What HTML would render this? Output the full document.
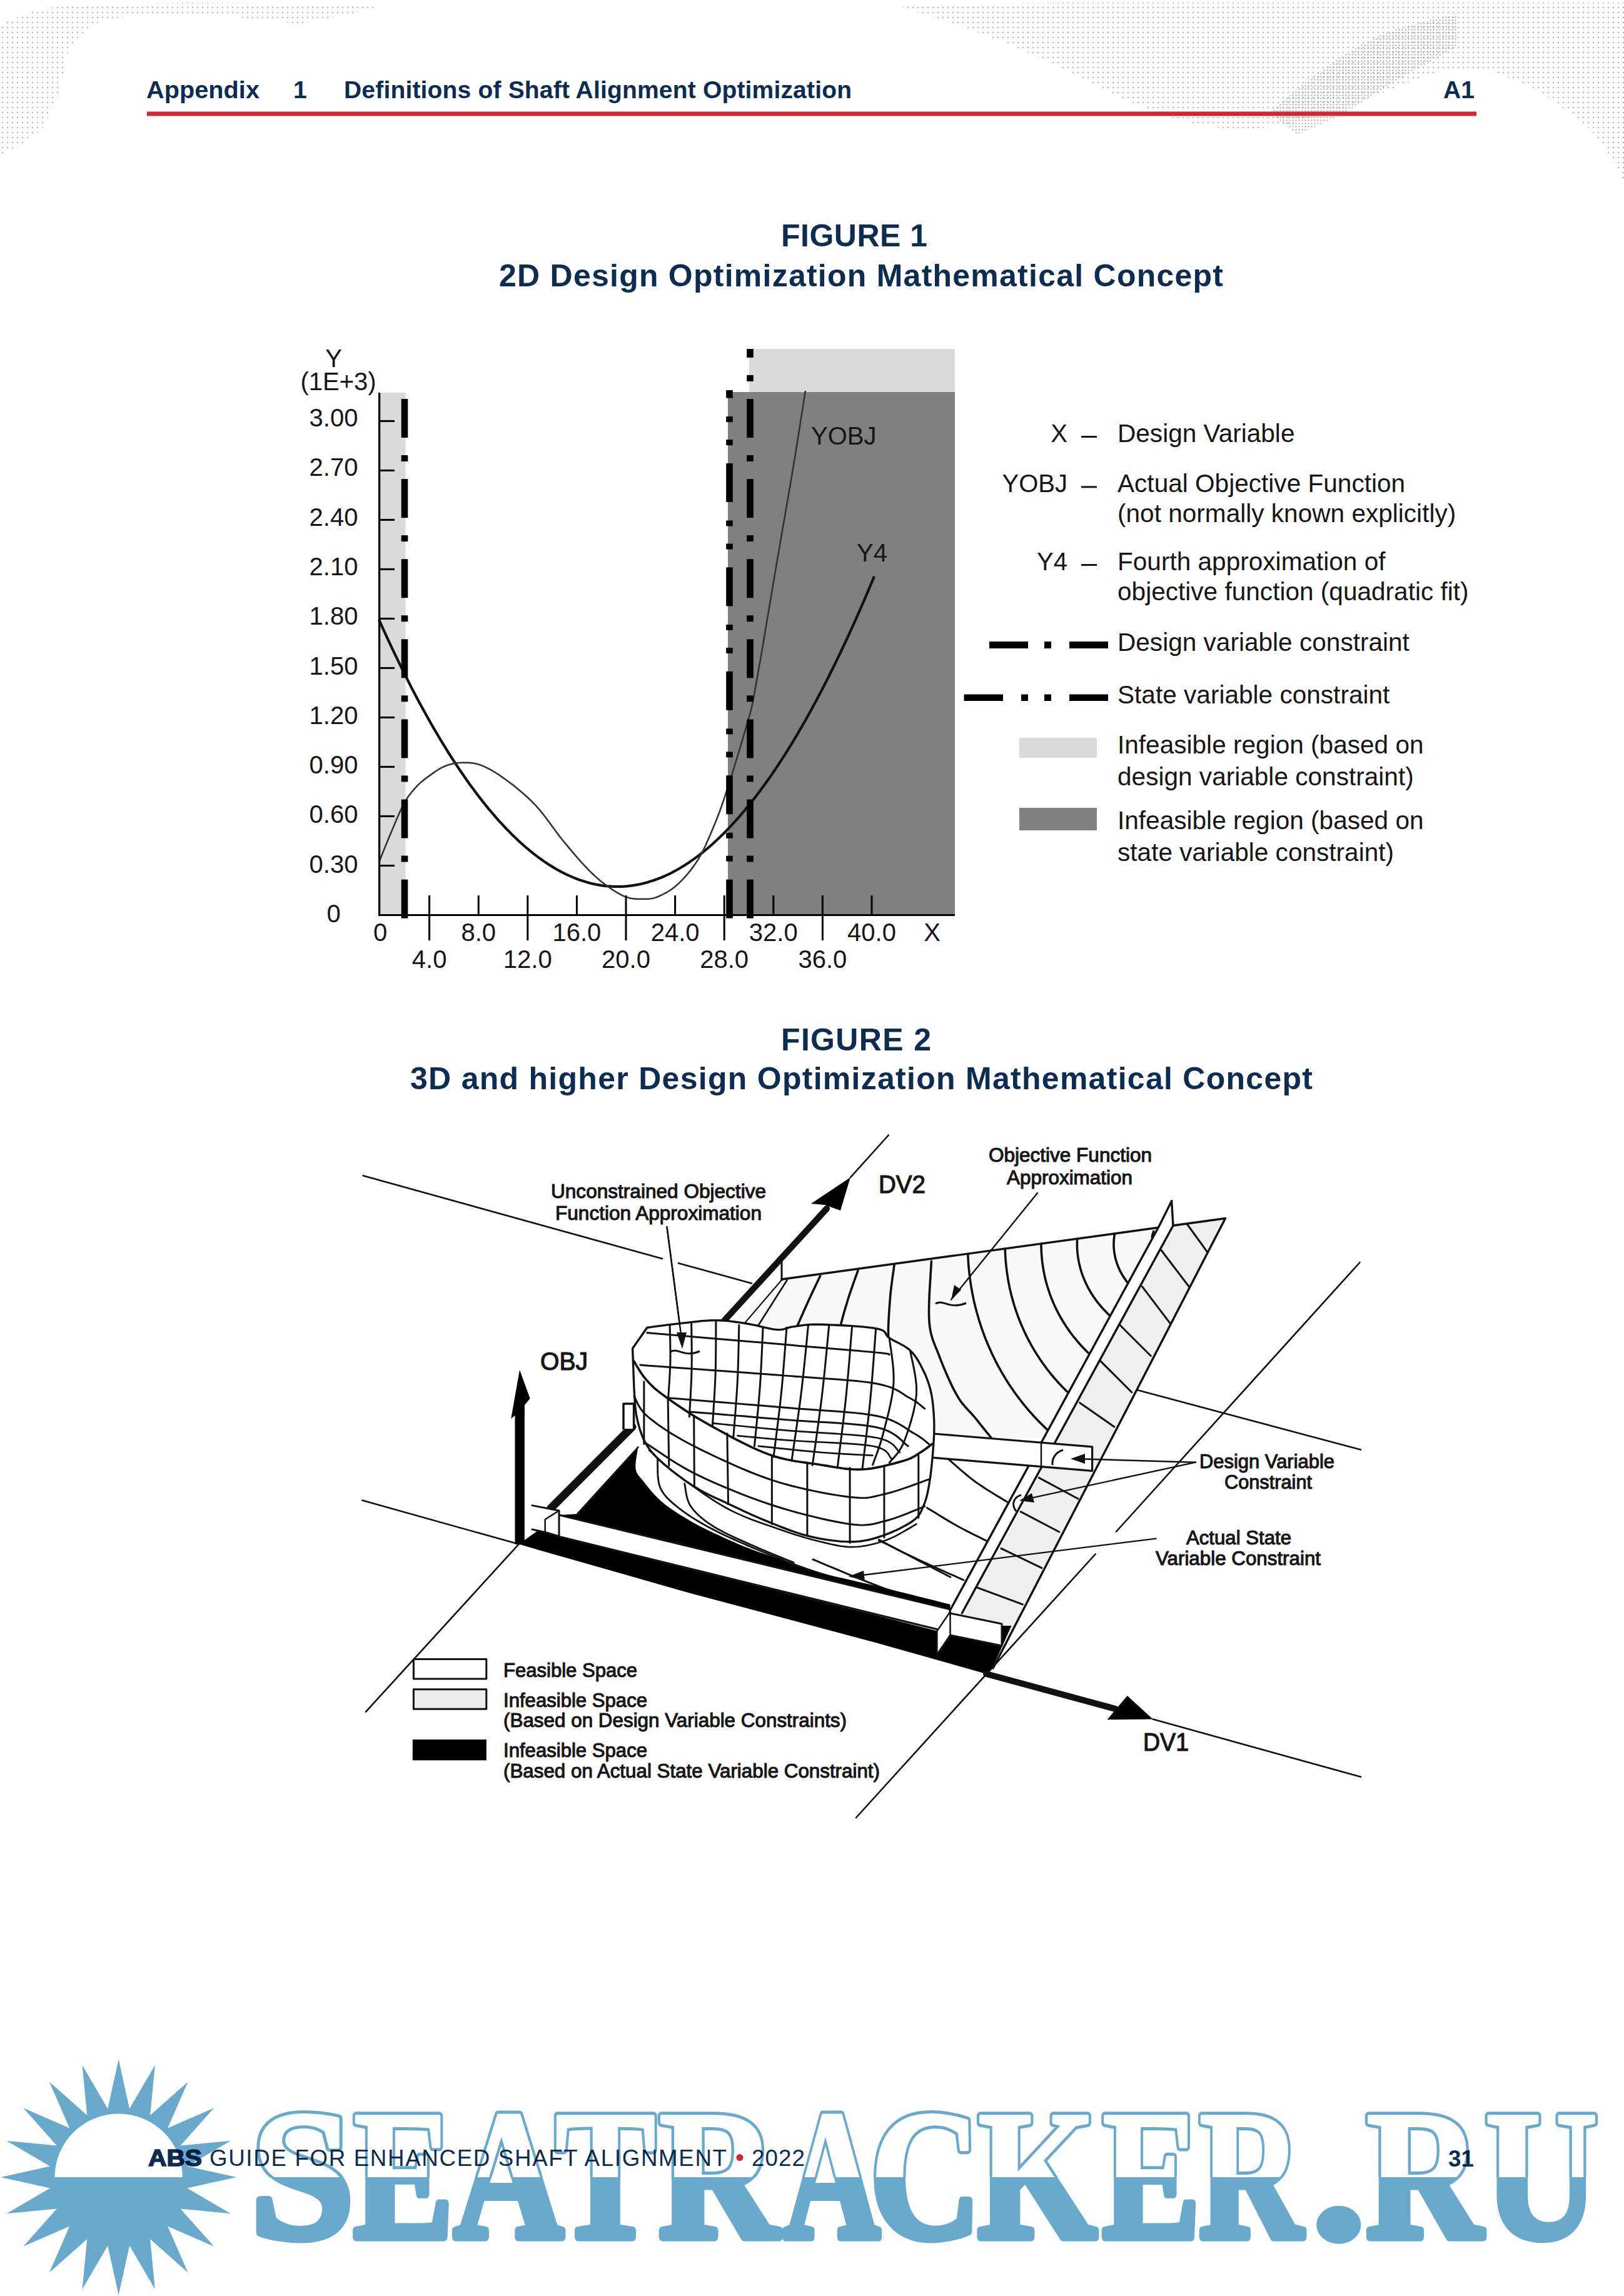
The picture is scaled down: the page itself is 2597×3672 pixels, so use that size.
<!DOCTYPE html>
<html><head><meta charset="utf-8">
<style>
html,body{margin:0;padding:0;background:#fff;}
body{width:2597px;height:3672px;position:relative;overflow:hidden;}
svg{position:absolute;left:0;top:0;}
svg{font-family:"Liberation Sans",sans-serif;}
</style></head>
<body>
<svg width="2597" height="3672" viewBox="0 0 2597 3672">
<defs>
<pattern id="dots" width="8" height="8" patternUnits="userSpaceOnUse"><circle cx="4" cy="4" r="1.25" fill="#9a9a9a"/></pattern>
<pattern id="dots2" width="5" height="5" patternUnits="userSpaceOnUse"><circle cx="2.5" cy="2.5" r="1.2" fill="#8a8a8a"/></pattern>
<clipPath id="cl1"><path d="M0.0,40.0 L60.0,14.0 L155.0,6.0 L300.0,4.0 L450.0,5.0 L600.0,5.0 L600.0,14.0 L480.0,38.0 L369.0,26.0 L221.0,22.0 L155.0,37.0 L111.0,74.0 L92.0,155.0 L66.5,207.0 L22.0,240.0 L0.0,246.0 Z"/></clipPath>
<clipPath id="cl2"><path d="M1430.0,7.0 L1700.0,4.0 L2200.0,4.0 L2597.0,4.0 L2597.0,290.0 L2591.7,280.8 L2584.9,268.0 L2576.7,252.8 L2566.8,236.6 L2555.5,220.7 L2542.5,206.4 L2527.3,192.9 L2509.8,179.2 L2490.8,165.7 L2470.9,153.1 L2451.1,141.9 L2432.0,132.7 L2414.4,125.0 L2397.7,118.2 L2381.1,112.9 L2363.4,109.5 L2343.7,108.6 L2321.0,110.6 L2294.1,117.0 L2263.7,127.5 L2231.3,140.6 L2198.3,154.3 L2166.4,167.1 L2137.0,177.0 L2110.3,184.7 L2085.2,191.7 L2061.1,197.7 L2037.5,202.3 L2013.8,205.3 L1989.7,206.4 L1966.0,205.8 L1943.2,203.7 L1920.5,200.0 L1896.7,194.5 L1870.9,186.9 L1842.0,177.0 L1809.1,163.6 L1772.7,146.7 L1734.2,127.7 L1695.2,108.2 L1656.9,89.7 L1621.0,73.7 L1585.2,59.7 L1548.0,46.3 L1511.7,33.9 L1478.4,22.9 L1450.4,13.8 L1430.0,7.0 Z"/></clipPath>
<clipPath id="cl3"><path d="M2030.0,180.0 L2038.5,172.9 L2050.0,163.0 L2063.7,151.2 L2078.8,138.7 L2094.5,126.3 L2110.0,115.0 L2125.4,104.4 L2141.4,93.6 L2158.1,83.0 L2175.2,72.8 L2192.9,63.4 L2211.0,55.0 L2231.2,47.6 L2253.7,40.8 L2276.8,34.8 L2298.5,29.6 L2316.8,25.3 L2330.0,22.0 L2330.0,75.0 L2320.2,80.4 L2306.7,87.8 L2290.6,96.6 L2273.3,106.1 L2256.0,115.8 L2240.0,125.0 L2224.8,134.1 L2209.4,143.7 L2194.1,153.4 L2178.9,163.0 L2164.1,171.9 L2150.0,180.0 L2135.8,187.4 L2121.1,194.4 L2106.9,200.9 L2093.9,206.7 L2083.0,211.4 L2075.0,215.0 Z"/></clipPath>
</defs>
<rect x="0" y="0" width="620" height="260" fill="url(#dots)" clip-path="url(#cl1)" opacity="0.7"/>
<rect x="1400" y="0" width="1197" height="300" fill="url(#dots)" clip-path="url(#cl2)" opacity="0.75"/>
<rect x="2000" y="0" width="400" height="220" fill="url(#dots2)" clip-path="url(#cl3)" opacity="0.65"/><g fill="#0c2c52" font-weight="bold" font-size="39">
<text x="234" y="157" textLength="181" lengthAdjust="spacingAndGlyphs">Appendix</text>
<text x="469" y="157">1</text>
<text x="550" y="157" textLength="812" lengthAdjust="spacing">Definitions of Shaft Alignment Optimization</text>
<text x="2308" y="157">A1</text>
</g>
<rect x="235" y="178.5" width="2126" height="7" fill="#d22630"/>
<g fill="#0c2c52" font-weight="bold" font-size="50">
<text x="1249" y="394.4" textLength="234" lengthAdjust="spacing">FIGURE 1</text>
<text x="798" y="457.5" textLength="1158" lengthAdjust="spacing">2D Design Optimization Mathematical Concept</text>
<text x="1249" y="1680" textLength="240" lengthAdjust="spacing">FIGURE 2</text>
<text x="656" y="1742.3" textLength="1443" lengthAdjust="spacing">3D and higher Design Optimization Mathematical Concept</text>
</g>
<g id="chart1">
<rect x="607" y="628" width="41.5" height="835" fill="#dadada"/>
<rect x="1198" y="558" width="329" height="69.5" fill="#dadada"/>
<rect x="1164" y="627" width="363" height="836" fill="#808080"/>
<path d="M606.0,991.0 L610.0,999.9 L614.0,1008.8 L618.0,1017.5 L622.0,1026.1 L626.0,1034.7 L630.0,1043.1 L634.0,1051.4 L638.0,1059.7 L642.0,1067.9 L646.0,1075.9 L650.0,1083.9 L654.0,1091.8 L658.0,1099.6 L662.0,1107.3 L666.0,1114.9 L670.0,1122.4 L674.0,1129.8 L678.0,1137.1 L682.0,1144.3 L686.0,1151.4 L690.0,1158.5 L694.0,1165.4 L698.0,1172.2 L702.0,1179.0 L706.0,1185.7 L710.0,1192.2 L714.0,1198.7 L718.0,1205.1 L722.0,1211.3 L726.0,1217.5 L730.0,1223.6 L734.0,1229.6 L738.0,1235.5 L742.0,1241.3 L746.0,1247.0 L750.0,1252.7 L754.0,1258.2 L758.0,1263.6 L762.0,1269.0 L766.0,1274.2 L770.0,1279.4 L774.0,1284.4 L778.0,1289.4 L782.0,1294.3 L786.0,1299.0 L790.0,1303.7 L794.0,1308.3 L798.0,1312.8 L802.0,1317.2 L806.0,1321.5 L810.0,1325.7 L814.0,1329.8 L818.0,1333.9 L822.0,1337.8 L826.0,1341.6 L830.0,1345.4 L834.0,1349.0 L838.0,1352.6 L842.0,1356.0 L846.0,1359.4 L850.0,1362.7 L854.0,1365.8 L858.0,1368.9 L862.0,1371.9 L866.0,1374.8 L870.0,1377.6 L874.0,1380.3 L878.0,1382.9 L882.0,1385.4 L886.0,1387.9 L890.0,1390.2 L894.0,1392.4 L898.0,1394.6 L902.0,1396.6 L906.0,1398.6 L910.0,1400.4 L914.0,1402.2 L918.0,1403.9 L922.0,1405.5 L926.0,1407.0 L930.0,1408.3 L934.0,1409.6 L938.0,1410.8 L942.0,1411.9 L946.0,1413.0 L950.0,1413.9 L954.0,1414.7 L958.0,1415.4 L962.0,1416.1 L966.0,1416.6 L970.0,1417.1 L974.0,1417.4 L978.0,1417.7 L982.0,1417.9 L986.0,1417.9 L990.0,1417.9 L994.0,1417.8 L998.0,1417.6 L1002.0,1417.3 L1006.0,1416.9 L1010.0,1416.4 L1014.0,1415.8 L1018.0,1415.1 L1022.0,1414.4 L1026.0,1413.5 L1030.0,1412.5 L1034.0,1411.5 L1038.0,1410.3 L1042.0,1409.1 L1046.0,1407.8 L1050.0,1406.3 L1054.0,1404.8 L1058.0,1403.2 L1062.0,1401.5 L1066.0,1399.7 L1070.0,1397.8 L1074.0,1395.8 L1078.0,1393.7 L1082.0,1391.5 L1086.0,1389.2 L1090.0,1386.8 L1094.0,1384.4 L1098.0,1381.8 L1102.0,1379.2 L1106.0,1376.4 L1110.0,1373.6 L1114.0,1370.6 L1118.0,1367.6 L1122.0,1364.5 L1126.0,1361.3 L1130.0,1358.0 L1134.0,1354.6 L1138.0,1351.1 L1142.0,1347.5 L1146.0,1343.8 L1150.0,1340.0 L1154.0,1336.1 L1158.0,1332.2 L1162.0,1328.1 L1166.0,1323.9 L1170.0,1319.7 L1174.0,1315.3 L1178.0,1310.9 L1182.0,1306.4 L1186.0,1301.7 L1190.0,1297.0 L1194.0,1292.2 L1198.0,1287.3 L1202.0,1282.3 L1206.0,1277.2 L1210.0,1272.0 L1214.0,1266.7 L1218.0,1261.3 L1222.0,1255.8 L1226.0,1250.3 L1230.0,1244.6 L1234.0,1238.9 L1238.0,1233.0 L1242.0,1227.1 L1246.0,1221.0 L1250.0,1214.9 L1254.0,1208.7 L1258.0,1202.3 L1262.0,1195.9 L1266.0,1189.4 L1270.0,1182.8 L1274.0,1176.1 L1278.0,1169.3 L1282.0,1162.4 L1286.0,1155.5 L1290.0,1148.4 L1294.0,1141.2 L1298.0,1134.0 L1302.0,1126.6 L1306.0,1119.2 L1310.0,1111.6 L1314.0,1104.0 L1318.0,1096.3 L1322.0,1088.4 L1326.0,1080.5 L1330.0,1072.5 L1334.0,1064.4 L1338.0,1056.2 L1342.0,1047.9 L1346.0,1039.5 L1350.0,1031.0 L1354.0,1022.4 L1358.0,1013.8 L1362.0,1005.0 L1366.0,996.1 L1370.0,987.2 L1374.0,978.1 L1378.0,969.0 L1382.0,959.8 L1386.0,950.4 L1390.0,941.0 L1394.0,931.5 L1398.0,921.9" fill="none" stroke="#111" stroke-width="4.2" stroke-linejoin="round"/>
<path d="M606.0,1379.0 L607.5,1375.2 L609.6,1370.1 L612.0,1364.1 L614.7,1357.3 L617.6,1350.3 L620.5,1343.2 L623.3,1336.3 L626.0,1330.0 L628.5,1324.0 L631.1,1317.9 L633.7,1311.8 L636.2,1305.8 L638.8,1300.0 L641.3,1294.5 L643.9,1289.3 L646.4,1284.5 L648.9,1280.2 L651.3,1276.3 L653.7,1272.8 L656.2,1269.5 L658.6,1266.5 L661.0,1263.6 L663.5,1260.8 L666.0,1258.0 L668.5,1255.4 L671.1,1252.9 L673.7,1250.6 L676.3,1248.4 L678.9,1246.4 L681.6,1244.4 L684.3,1242.4 L687.0,1240.4 L689.8,1238.4 L692.6,1236.4 L695.4,1234.4 L698.3,1232.5 L701.2,1230.6 L704.1,1228.9 L707.0,1227.4 L710.0,1226.0 L712.9,1224.8 L715.8,1223.7 L718.7,1222.7 L721.6,1221.9 L724.6,1221.2 L727.7,1220.6 L731.0,1220.2 L734.5,1220.0 L738.2,1219.8 L742.1,1219.7 L746.2,1219.7 L750.4,1219.9 L754.7,1220.3 L759.1,1221.0 L763.7,1222.0 L768.3,1223.5 L773.0,1225.4 L777.8,1227.6 L782.8,1230.1 L787.8,1232.9 L792.9,1236.0 L798.2,1239.4 L803.5,1243.1 L809.0,1247.0 L814.6,1251.2 L820.5,1255.6 L826.5,1260.4 L832.5,1265.4 L838.6,1270.7 L844.7,1276.2 L850.6,1281.9 L856.4,1287.9 L862.1,1294.3 L867.7,1301.1 L873.2,1308.3 L878.7,1315.6 L884.1,1323.0 L889.4,1330.3 L894.7,1337.4 L900.0,1344.0 L905.2,1350.4 L910.5,1356.7 L915.7,1362.8 L920.8,1368.8 L925.8,1374.6 L930.7,1380.1 L935.5,1385.2 L940.0,1390.0 L944.3,1394.3 L948.4,1398.3 L952.3,1401.9 L956.1,1405.3 L959.8,1408.4 L963.5,1411.4 L967.2,1414.2 L971.0,1417.0 L974.8,1419.7 L978.7,1422.4 L982.5,1424.9 L986.3,1427.2 L990.1,1429.4 L993.8,1431.4 L997.4,1433.1 L1001.0,1434.5 L1004.5,1435.6 L1007.8,1436.5 L1011.1,1437.0 L1014.4,1437.4 L1017.6,1437.6 L1020.7,1437.7 L1023.9,1437.7 L1027.0,1437.7 L1030.0,1437.7 L1033.0,1437.7 L1035.8,1437.7 L1038.6,1437.5 L1041.5,1437.2 L1044.5,1436.6 L1047.6,1435.7 L1051.0,1434.5 L1054.6,1433.0 L1058.4,1431.2 L1062.4,1429.2 L1066.5,1427.0 L1070.6,1424.5 L1074.8,1421.6 L1078.9,1418.5 L1083.0,1415.0 L1087.1,1411.1 L1091.3,1406.9 L1095.5,1402.3 L1099.7,1397.5 L1103.9,1392.4 L1107.9,1387.1 L1111.8,1381.6 L1115.5,1376.0 L1119.0,1370.2 L1122.3,1364.2 L1125.4,1358.0 L1128.5,1351.7 L1131.4,1345.1 L1134.3,1338.5 L1137.2,1331.8 L1140.0,1325.0 L1142.7,1318.5 L1145.2,1312.3 L1147.6,1306.3 L1150.0,1300.0 L1152.5,1293.3 L1155.1,1285.8 L1158.0,1277.3 L1161.2,1267.5 L1165.0,1255.8 L1169.3,1242.2 L1173.9,1227.4 L1178.6,1211.9 L1183.3,1196.5 L1187.7,1181.7 L1191.7,1168.1 L1195.0,1156.5 L1197.5,1147.8 L1199.2,1141.9 L1200.5,1137.6 L1201.5,1133.8 L1202.5,1129.2 L1203.8,1122.9 L1205.5,1113.5 L1208.0,1100.0 L1211.3,1081.6 L1215.2,1059.1 L1219.6,1033.7 L1224.2,1006.4 L1228.9,978.4 L1233.6,950.7 L1238.0,924.6 L1242.0,901.0 L1245.7,879.7 L1249.2,859.3 L1252.6,839.7 L1255.9,820.9 L1259.0,802.6 L1262.1,784.8 L1265.1,767.3 L1268.0,750.0 L1270.9,732.3 L1273.9,714.0 L1276.8,695.7 L1279.6,678.1 L1282.2,661.6 L1284.5,646.9 L1286.5,634.5 L1288.0,625.0" fill="none" stroke="#333" stroke-width="2.6" stroke-linejoin="round"/>
<rect x="605" y="628" width="3.2" height="837" fill="#000"/>
<rect x="605" y="1462" width="922" height="3" fill="#000"/>
<rect x="606" y="1382.9" width="25" height="3" fill="#000"/>
<rect x="606" y="1303.9" width="25" height="3" fill="#000"/>
<rect x="606" y="1224.9" width="25" height="3" fill="#000"/>
<rect x="606" y="1145.9" width="25" height="3" fill="#000"/>
<rect x="606" y="1066.9" width="25" height="3" fill="#000"/>
<rect x="606" y="987.9" width="25" height="3" fill="#000"/>
<rect x="606" y="908.9" width="25" height="3" fill="#000"/>
<rect x="606" y="829.9" width="25" height="3" fill="#000"/>
<rect x="606" y="750.9" width="25" height="3" fill="#000"/>
<rect x="606" y="671.9" width="25" height="3" fill="#000"/>
<rect x="685.1" y="1432" width="3" height="72" fill="#000"/>
<rect x="763.7" y="1432" width="3" height="31" fill="#000"/>
<rect x="842.3" y="1432" width="3" height="72" fill="#000"/>
<rect x="920.9" y="1432" width="3" height="31" fill="#000"/>
<rect x="999.5" y="1432" width="3" height="72" fill="#000"/>
<rect x="1078.1" y="1432" width="3" height="31" fill="#000"/>
<rect x="1156.7" y="1432" width="3" height="72" fill="#000"/>
<rect x="1235.3" y="1432" width="3" height="31" fill="#000"/>
<rect x="1313.9" y="1432" width="3" height="72" fill="#000"/>
<rect x="1392.5" y="1432" width="3" height="31" fill="#000"/>
<g fill="#000">
<rect x="641.7" y="638.0" width="10.6" height="62.0"/>
<rect x="641.7" y="728.0" width="10.6" height="10"/>
<rect x="641.7" y="766.1" width="10.6" height="62.0"/>
<rect x="641.7" y="856.1" width="10.6" height="10"/>
<rect x="641.7" y="894.2" width="10.6" height="62.0"/>
<rect x="641.7" y="984.2" width="10.6" height="10"/>
<rect x="641.7" y="1022.3" width="10.6" height="62.0"/>
<rect x="641.7" y="1112.3" width="10.6" height="10"/>
<rect x="641.7" y="1150.4" width="10.6" height="62.0"/>
<rect x="641.7" y="1240.4" width="10.6" height="10"/>
<rect x="641.7" y="1278.5" width="10.6" height="62.0"/>
<rect x="641.7" y="1368.5" width="10.6" height="10"/>
<rect x="641.7" y="1406.6" width="10.6" height="62.0"/>
<rect x="1194.2" y="558.0" width="10.6" height="13.9"/>
<rect x="1194.2" y="599.9" width="10.6" height="10"/>
<rect x="1194.2" y="638.0" width="10.6" height="62.0"/>
<rect x="1194.2" y="728.0" width="10.6" height="10"/>
<rect x="1194.2" y="766.1" width="10.6" height="62.0"/>
<rect x="1194.2" y="856.1" width="10.6" height="10"/>
<rect x="1194.2" y="894.2" width="10.6" height="62.0"/>
<rect x="1194.2" y="984.2" width="10.6" height="10"/>
<rect x="1194.2" y="1022.3" width="10.6" height="62.0"/>
<rect x="1194.2" y="1112.3" width="10.6" height="10"/>
<rect x="1194.2" y="1150.4" width="10.6" height="62.0"/>
<rect x="1194.2" y="1240.4" width="10.6" height="10"/>
<rect x="1194.2" y="1278.5" width="10.6" height="62.0"/>
<rect x="1194.2" y="1368.5" width="10.6" height="10"/>
<rect x="1194.2" y="1406.6" width="10.6" height="62.0"/>
<rect x="1161.2" y="624.0" width="10.6" height="12.6"/>
<rect x="1161.2" y="666.1" width="10.6" height="9"/>
<rect x="1161.2" y="703.1" width="10.6" height="9"/>
<rect x="1161.2" y="741.0" width="10.6" height="62.0"/>
<rect x="1161.2" y="832.5" width="10.6" height="9"/>
<rect x="1161.2" y="869.5" width="10.6" height="9"/>
<rect x="1161.2" y="907.4" width="10.6" height="62.0"/>
<rect x="1161.2" y="998.9" width="10.6" height="9"/>
<rect x="1161.2" y="1035.9" width="10.6" height="9"/>
<rect x="1161.2" y="1073.8" width="10.6" height="62.0"/>
<rect x="1161.2" y="1165.3" width="10.6" height="9"/>
<rect x="1161.2" y="1202.3" width="10.6" height="9"/>
<rect x="1161.2" y="1240.2" width="10.6" height="62.0"/>
<rect x="1161.2" y="1331.7" width="10.6" height="9"/>
<rect x="1161.2" y="1368.7" width="10.6" height="9"/>
<rect x="1161.2" y="1406.6" width="10.6" height="62.0"/>
</g>
<g font-size="40" fill="#161616">
<text x="533.5" y="682.0" text-anchor="middle">3.00</text>
<text x="533.5" y="761.3" text-anchor="middle">2.70</text>
<text x="533.5" y="840.6" text-anchor="middle">2.40</text>
<text x="533.5" y="919.9" text-anchor="middle">2.10</text>
<text x="533.5" y="999.2" text-anchor="middle">1.80</text>
<text x="533.5" y="1078.5" text-anchor="middle">1.50</text>
<text x="533.5" y="1157.8" text-anchor="middle">1.20</text>
<text x="533.5" y="1237.1" text-anchor="middle">0.90</text>
<text x="533.5" y="1316.4" text-anchor="middle">0.60</text>
<text x="533.5" y="1395.7" text-anchor="middle">0.30</text>
<text x="533.5" y="1475.0" text-anchor="middle">0</text>
<text x="533.5" y="586.5" text-anchor="middle">Y</text>
<text x="541" y="623.5" text-anchor="middle">(1E+3)</text>
<text x="608.0" y="1504.5" text-anchor="middle">0</text>
<text x="686.6" y="1548" text-anchor="middle">4.0</text>
<text x="765.2" y="1504.5" text-anchor="middle">8.0</text>
<text x="843.8" y="1548" text-anchor="middle">12.0</text>
<text x="922.4" y="1504.5" text-anchor="middle">16.0</text>
<text x="1001.0" y="1548" text-anchor="middle">20.0</text>
<text x="1079.6" y="1504.5" text-anchor="middle">24.0</text>
<text x="1158.2" y="1548" text-anchor="middle">28.0</text>
<text x="1236.8" y="1504.5" text-anchor="middle">32.0</text>
<text x="1315.4" y="1548" text-anchor="middle">36.0</text>
<text x="1394.0" y="1504.5" text-anchor="middle">40.0</text>
<text x="1490.6" y="1504.5" text-anchor="middle">X</text>
<text x="1297" y="711">YOBJ</text>
<text x="1370" y="897.6">Y4</text>
<text x="1707" y="707" text-anchor="end">X</text>
<text x="1707" y="787.3" text-anchor="end">YOBJ</text>
<text x="1707" y="912" text-anchor="end">Y4</text>
<rect x="1729" y="697.0" width="25" height="3"/>
<rect x="1729" y="777.3" width="25" height="3"/>
<rect x="1729" y="902.0" width="25" height="3"/>
<text x="1787" y="707" font-size="40.6">Design Variable</text>
<text x="1787" y="787.3" font-size="40.6">Actual Objective Function</text>
<text x="1787" y="835.3" font-size="40.6">(not normally known explicitly)</text>
<text x="1787" y="912" font-size="40.6">Fourth approximation of</text>
<text x="1787" y="960" font-size="40.6">objective function (quadratic fit)</text>
<text x="1787" y="1040.6" font-size="40.6">Design variable constraint</text>
<text x="1787" y="1124.7" font-size="40.6">State variable constraint</text>
<text x="1787" y="1205" font-size="40.6">Infeasible region (based on</text>
<text x="1787" y="1255.9" font-size="40.6">design variable constraint)</text>
<text x="1787" y="1325.5" font-size="40.6">Infeasible region (based on</text>
<text x="1787" y="1376.9" font-size="40.6">state variable constraint)</text>
</g>
<g fill="#000">
<rect x="1582" y="1026" width="62" height="11"/><rect x="1670" y="1026" width="11" height="11"/><rect x="1710" y="1026" width="62" height="11"/>
<rect x="1541.5" y="1110.5" width="62.5" height="10.5"/><rect x="1633" y="1110.5" width="11" height="10.5"/><rect x="1670" y="1110.5" width="11" height="10.5"/><rect x="1710" y="1110.5" width="62" height="10.5"/>
</g>
<rect x="1630" y="1180" width="124" height="32" fill="#dadada"/>
<rect x="1630" y="1292" width="124" height="36" fill="#808080"/>
</g><g id="fig2">
<rect x="560" y="1815" width="1620" height="1105" fill="#fefefe"/>
<polygon points="1250,2046 1959.5,1948.5 1700,2300 1490,2300 1400,2130 1150,2130" fill="#f9f9f9"/>
<path d="M580.7,1880.2 L1059.0,2013.0" fill="none" stroke="#111" stroke-width="2.6" stroke-linejoin="round" stroke-linecap="round" />
<path d="M1085.0,2020.2 L1202.0,2052.4" fill="none" stroke="#111" stroke-width="2.6" stroke-linejoin="round" stroke-linecap="round" />
<path d="M579.4,2399.6 L829.6,2469.6" fill="none" stroke="#111" stroke-width="2.6" stroke-linejoin="round" stroke-linecap="round" />
<path d="M829.6,2469.6 L585.0,2737.7" fill="none" stroke="#111" stroke-width="2.6" stroke-linejoin="round" stroke-linecap="round" />
<path d="M2174.5,2019.0 L1785.0,2449.5" fill="none" stroke="#111" stroke-width="2.6" stroke-linejoin="round" stroke-linecap="round" />
<path d="M1751.7,2485.5 L1369.0,2907.0" fill="none" stroke="#111" stroke-width="2.6" stroke-linejoin="round" stroke-linecap="round" />
<path d="M1811.0,2221.0 L2176.0,2318.6" fill="none" stroke="#111" stroke-width="2.6" stroke-linejoin="round" stroke-linecap="round" />
<path d="M1843.7,2749.6 L2176.0,2841.8" fill="none" stroke="#111" stroke-width="2.6" stroke-linejoin="round" stroke-linecap="round" />
<path d="M1359.9,1883.1 L1420.8,1815.5" fill="none" stroke="#111" stroke-width="2.6" stroke-linejoin="round" stroke-linecap="round" />
<polygon points="1874.7,1960 1959.5,1948.5 1588,2668 1540,2580" fill="#efefef"/>
<path d="M1250.0,2046.0 L1959.5,1948.5 L1588.0,2668.0" fill="none" stroke="#111" stroke-width="3.4" stroke-linejoin="round" stroke-linecap="round" />
<path d="M1311.6,2040.8 L1310.5,2043.1 L1309.1,2046.1 L1307.4,2049.6 L1305.5,2053.6 L1303.4,2057.9 L1301.3,2062.3 L1299.1,2066.9 L1297.0,2071.4 L1294.9,2075.9 L1293.0,2080.0 L1291.2,2084.0 L1289.3,2088.2 L1287.4,2092.4 L1285.5,2096.6 L1283.7,2100.9 L1281.8,2105.0 L1280.0,2109.1 L1278.3,2113.1 L1276.6,2116.9 L1275.0,2120.5 L1273.4,2124.0 L1271.9,2127.6 L1270.3,2131.1 L1268.8,2134.5 L1267.4,2137.8 L1266.0,2140.9 L1264.8,2143.7 L1263.7,2146.2 L1262.8,2148.3 L1262.0,2150.0" fill="none" stroke="#111" stroke-width="3.6" stroke-linejoin="round" stroke-linecap="round" />
<path d="M1372.0,2032.0 L1371.1,2034.5 L1369.9,2037.8 L1368.5,2041.7 L1367.0,2046.0 L1365.3,2050.7 L1363.6,2055.6 L1361.8,2060.6 L1360.1,2065.6 L1358.5,2070.4 L1357.0,2075.0 L1355.6,2079.5 L1354.2,2084.2 L1352.7,2089.0 L1351.3,2093.8 L1349.9,2098.6 L1348.6,2103.3 L1347.3,2107.9 L1346.1,2112.4 L1345.0,2116.6 L1344.0,2120.5 L1343.1,2124.2 L1342.3,2127.9 L1341.5,2131.5 L1340.8,2134.9 L1340.2,2138.1 L1339.6,2141.1 L1339.1,2143.8 L1338.7,2146.2 L1338.3,2148.3 L1338.0,2150.0" fill="none" stroke="#111" stroke-width="3.6" stroke-linejoin="round" stroke-linecap="round" />
<path d="M1430.0,2023.5 L1429.6,2026.2 L1429.1,2029.7 L1428.6,2033.8 L1427.9,2038.4 L1427.2,2043.3 L1426.5,2048.6 L1425.8,2054.0 L1425.1,2059.4 L1424.5,2064.8 L1424.0,2070.0 L1423.5,2075.3 L1423.1,2080.9 L1422.6,2086.8 L1422.2,2092.7 L1421.8,2098.7 L1421.4,2104.6 L1421.1,2110.3 L1420.8,2115.6 L1420.6,2120.5 L1420.5,2124.8 L1420.5,2128.6 L1420.5,2132.1 L1420.6,2135.3 L1420.8,2138.2 L1421.0,2140.8 L1421.3,2143.2 L1421.5,2145.2 L1421.7,2147.0 L1421.9,2148.6 L1422.0,2150.0" fill="none" stroke="#111" stroke-width="3.6" stroke-linejoin="round" stroke-linecap="round" />
<path d="M1489.4,2017.0 L1489.1,2023.0 L1488.6,2030.9 L1488.0,2040.3 L1487.4,2050.9 L1486.7,2062.1 L1486.1,2073.6 L1485.7,2085.0 L1485.5,2095.8 L1485.6,2105.6 L1486.0,2114.0 L1486.7,2121.1 L1487.7,2127.4 L1488.9,2133.0 L1490.3,2138.2 L1491.8,2143.1 L1493.6,2147.7 L1495.4,2152.4 L1497.4,2157.2 L1499.5,2162.4 L1501.7,2168.0 L1504.0,2174.1 L1506.6,2180.6 L1509.4,2187.4 L1512.3,2194.3 L1515.3,2201.2 L1518.4,2208.0 L1521.4,2214.6 L1524.5,2220.9 L1527.6,2226.7 L1530.5,2232.0 L1533.4,2236.7 L1536.3,2241.0 L1539.2,2244.8 L1542.2,2248.4 L1545.1,2251.7 L1548.0,2254.9 L1550.9,2257.9 L1553.7,2261.0 L1556.5,2264.1 L1559.3,2267.4 L1562.1,2270.9 L1565.0,2274.5 L1568.0,2278.3 L1571.0,2282.0 L1573.9,2285.6 L1576.7,2289.1 L1579.3,2292.3 L1581.6,2295.1 L1583.5,2297.5 L1585.0,2299.4" fill="none" stroke="#111" stroke-width="3.6" stroke-linejoin="round" stroke-linecap="round" />
<path d="M1547.8,2005.8 L1548.0,2009.8 L1548.2,2013.7 L1548.4,2017.7 L1548.7,2021.6 L1549.0,2025.6 L1549.4,2029.5 L1549.8,2033.5 L1550.2,2037.4 L1550.7,2041.3 L1551.2,2045.3 L1551.7,2049.2 L1552.3,2053.1 L1552.9,2057.0 L1553.6,2060.9 L1554.3,2064.8 L1555.0,2068.7 L1555.8,2072.6 L1556.6,2076.4 L1557.4,2080.3 L1558.3,2084.1 L1559.2,2088.0 L1560.2,2091.8 L1561.2,2095.6 L1562.2,2099.4 L1563.3,2103.2 L1564.4,2107.0 L1565.5,2110.8 L1566.7,2114.6 L1567.9,2118.3 L1569.1,2122.1 L1570.4,2125.8 L1571.7,2129.5 L1573.0,2133.2 L1574.4,2136.9 L1575.8,2140.6 L1577.3,2144.2 L1578.8,2147.8 L1580.3,2151.5 L1581.9,2155.1 L1583.5,2158.7 L1585.1,2162.2 L1586.7,2165.8 L1588.4,2169.3 L1590.2,2172.9 L1591.9,2176.4 L1593.7,2179.9 L1595.5,2183.3 L1597.4,2186.8 L1599.3,2190.2 L1601.2,2193.6 L1603.2,2197.0 L1605.2,2200.3 L1607.2,2203.7 L1609.2,2207.0 L1611.3,2210.3 L1613.4,2213.6 L1615.6,2216.9 L1617.8,2220.1 L1620.0,2223.3 L1622.2,2226.5 L1624.5,2229.7 L1626.8,2232.8 L1629.1,2235.9 L1631.5,2239.0 L1633.9,2242.1 L1636.3,2245.1 L1638.7,2248.1 L1641.2,2251.1 L1643.7,2254.1 L1646.2,2257.0 L1648.8,2259.9 L1651.4,2262.8 L1654.0,2265.7 L1656.6,2268.5 L1659.3,2271.3 L1662.0,2274.1 L1664.7,2276.8 L1667.5,2279.5 L1670.2,2282.2 L1673.0,2284.9 L1675.9,2287.5" fill="none" stroke="#111" stroke-width="3.6" stroke-linejoin="round" stroke-linecap="round" />
<path d="M1607.3,1997.1 L1607.4,2000.4 L1607.5,2003.6 L1607.6,2006.9 L1607.8,2010.1 L1608.0,2013.3 L1608.3,2016.6 L1608.5,2019.8 L1608.9,2023.0 L1609.2,2026.3 L1609.6,2029.5 L1610.0,2032.7 L1610.4,2035.9 L1610.9,2039.1 L1611.4,2042.3 L1611.9,2045.5 L1612.4,2048.7 L1613.0,2051.9 L1613.7,2055.1 L1614.3,2058.3 L1615.0,2061.4 L1615.7,2064.6 L1616.5,2067.8 L1617.2,2070.9 L1618.0,2074.0 L1618.9,2077.2 L1619.8,2080.3 L1620.7,2083.4 L1621.6,2086.5 L1622.5,2089.6 L1623.5,2092.7 L1624.6,2095.8 L1625.6,2098.8 L1626.7,2101.9 L1627.8,2104.9 L1628.9,2107.9 L1630.1,2111.0 L1631.3,2114.0 L1632.5,2117.0 L1633.8,2119.9 L1635.1,2122.9 L1636.4,2125.9 L1637.7,2128.8 L1639.1,2131.7 L1640.5,2134.6 L1641.9,2137.5 L1643.4,2140.4 L1644.9,2143.3 L1646.4,2146.1 L1648.0,2149.0 L1649.5,2151.8 L1651.1,2154.6 L1652.7,2157.4 L1654.4,2160.2 L1656.1,2162.9 L1657.8,2165.7 L1659.5,2168.4 L1661.3,2171.1 L1663.1,2173.8 L1664.9,2176.4 L1666.7,2179.1 L1668.6,2181.7 L1670.5,2184.3 L1672.4,2186.9 L1674.3,2189.5 L1676.3,2192.0 L1678.3,2194.5 L1680.3,2197.1 L1682.3,2199.5 L1684.4,2202.0 L1686.5,2204.5 L1688.6,2206.9 L1690.7,2209.3 L1692.9,2211.7 L1695.1,2214.0 L1697.3,2216.4 L1699.5,2218.7 L1701.8,2221.0 L1704.0,2223.2 L1706.3,2225.5" fill="none" stroke="#111" stroke-width="3.6" stroke-linejoin="round" stroke-linecap="round" />
<path d="M1665.0,1989.0 L1665.0,1991.5 L1665.0,1993.9 L1665.1,1996.4 L1665.2,1998.9 L1665.3,2001.3 L1665.4,2003.8 L1665.6,2006.3 L1665.8,2008.7 L1666.0,2011.2 L1666.2,2013.6 L1666.5,2016.1 L1666.7,2018.5 L1667.1,2021.0 L1667.4,2023.4 L1667.8,2025.9 L1668.2,2028.3 L1668.6,2030.7 L1669.0,2033.2 L1669.5,2035.6 L1670.0,2038.0 L1670.5,2040.4 L1671.0,2042.9 L1671.6,2045.3 L1672.2,2047.7 L1672.8,2050.1 L1673.5,2052.4 L1674.1,2054.8 L1674.8,2057.2 L1675.6,2059.6 L1676.3,2061.9 L1677.1,2064.3 L1677.9,2066.6 L1678.7,2069.0 L1679.5,2071.3 L1680.4,2073.6 L1681.3,2075.9 L1682.2,2078.3 L1683.2,2080.6 L1684.1,2082.8 L1685.1,2085.1 L1686.1,2087.4 L1687.2,2089.7 L1688.2,2091.9 L1689.3,2094.1 L1690.4,2096.4 L1691.6,2098.6 L1692.7,2100.8 L1693.9,2103.0 L1695.1,2105.2 L1696.3,2107.4 L1697.6,2109.5 L1698.9,2111.7 L1700.1,2113.8 L1701.5,2115.9 L1702.8,2118.1 L1704.2,2120.2 L1705.5,2122.2 L1707.0,2124.3 L1708.4,2126.4 L1709.8,2128.4 L1711.3,2130.5 L1712.8,2132.5 L1714.3,2134.5 L1715.8,2136.5 L1717.4,2138.5 L1719.0,2140.4 L1720.6,2142.4 L1722.2,2144.3 L1723.8,2146.2 L1725.5,2148.1 L1727.1,2150.0 L1728.8,2151.9 L1730.6,2153.7 L1732.3,2155.5 L1734.1,2157.4 L1735.8,2159.2 L1737.6,2161.0 L1739.4,2162.7 L1741.3,2164.5" fill="none" stroke="#111" stroke-width="3.6" stroke-linejoin="round" stroke-linecap="round" />
<path d="M1722.7,1981.2 L1722.6,1982.9 L1722.5,1984.6 L1722.4,1986.3 L1722.4,1988.0 L1722.4,1989.7 L1722.4,1991.4 L1722.4,1993.1 L1722.5,1994.8 L1722.5,1996.5 L1722.6,1998.2 L1722.7,1999.9 L1722.9,2001.6 L1723.0,2003.2 L1723.2,2004.9 L1723.4,2006.6 L1723.6,2008.3 L1723.8,2010.0 L1724.1,2011.7 L1724.3,2013.4 L1724.6,2015.1 L1724.9,2016.7 L1725.3,2018.4 L1725.6,2020.1 L1726.0,2021.8 L1726.4,2023.4 L1726.8,2025.1 L1727.2,2026.8 L1727.6,2028.4 L1728.1,2030.1 L1728.6,2031.7 L1729.1,2033.4 L1729.6,2035.0 L1730.2,2036.7 L1730.7,2038.3 L1731.3,2039.9 L1731.9,2041.5 L1732.6,2043.2 L1733.2,2044.8 L1733.9,2046.4 L1734.5,2048.0 L1735.2,2049.6 L1736.0,2051.2 L1736.7,2052.7 L1737.5,2054.3 L1738.2,2055.9 L1739.0,2057.5 L1739.8,2059.0 L1740.7,2060.6 L1741.5,2062.1 L1742.4,2063.6 L1743.3,2065.2 L1744.2,2066.7 L1745.1,2068.2 L1746.0,2069.7 L1747.0,2071.2 L1748.0,2072.7 L1749.0,2074.2 L1750.0,2075.6 L1751.0,2077.1 L1752.1,2078.6 L1753.1,2080.0 L1754.2,2081.5 L1755.3,2082.9 L1756.4,2084.3 L1757.6,2085.7 L1758.7,2087.1 L1759.9,2088.5 L1761.1,2089.9 L1762.3,2091.3 L1763.5,2092.6 L1764.7,2094.0 L1765.9,2095.3 L1767.2,2096.6 L1768.5,2097.9 L1769.8,2099.3 L1771.1,2100.6 L1772.4,2101.8 L1773.8,2103.1" fill="none" stroke="#111" stroke-width="3.6" stroke-linejoin="round" stroke-linecap="round" />
<path d="M1782.6,1973.0 L1782.4,1974.2 L1782.2,1975.3 L1782.0,1976.5 L1781.8,1977.6 L1781.7,1978.7 L1781.6,1979.9 L1781.4,1981.0 L1781.3,1982.2 L1781.2,1983.3 L1781.2,1984.5 L1781.1,1985.6 L1781.1,1986.8 L1781.0,1987.9 L1781.0,1989.1 L1781.0,1990.2 L1781.0,1991.4 L1781.0,1992.5 L1781.1,1993.7 L1781.1,1994.8 L1781.2,1996.0 L1781.3,1997.1 L1781.4,1998.3 L1781.5,1999.4 L1781.6,2000.6 L1781.7,2001.7 L1781.9,2002.9 L1782.1,2004.0 L1782.3,2005.1 L1782.4,2006.3 L1782.7,2007.4 L1782.9,2008.5 L1783.1,2009.7 L1783.4,2010.8 L1783.6,2011.9 L1783.9,2013.1 L1784.2,2014.2 L1784.5,2015.3 L1784.9,2016.4 L1785.2,2017.6 L1785.5,2018.7 L1785.9,2019.8 L1786.3,2020.9 L1786.7,2022.0 L1787.1,2023.1 L1787.5,2024.2 L1788.0,2025.3 L1788.4,2026.4 L1788.9,2027.5 L1789.3,2028.6 L1789.8,2029.6 L1790.3,2030.7 L1790.8,2031.8 L1791.4,2032.9 L1791.9,2033.9 L1792.5,2035.0 L1793.0,2036.1 L1793.6,2037.1 L1794.2,2038.1 L1794.8,2039.2 L1795.5,2040.2 L1796.1,2041.3 L1796.7,2042.3 L1797.4,2043.3 L1798.1,2044.3 L1798.8,2045.3 L1799.5,2046.3 L1800.2,2047.3 L1800.9,2048.3 L1801.6,2049.3 L1802.4,2050.3" fill="none" stroke="#111" stroke-width="3.6" stroke-linejoin="round" stroke-linecap="round" />
<path d="M1844.8,1969.3 L1844.5,1970.0 L1844.3,1970.7 L1844.0,1971.3 L1843.8,1972.0 L1843.6,1972.7 L1843.4,1973.4 L1843.2,1974.0 L1843.0,1974.7 L1842.8,1975.4 L1842.7,1976.1 L1842.5,1976.8 L1842.4,1977.5 L1842.2,1978.2" fill="none" stroke="#111" stroke-width="3.6" stroke-linejoin="round" stroke-linecap="round" />
<path d="M1898.5,1958.0 L1930.7,2002.3" fill="none" stroke="#111" stroke-width="3.0" stroke-linejoin="round" stroke-linecap="round" />
<path d="M1857.0,1999.5 L1901.3,2057.7" fill="none" stroke="#111" stroke-width="3.0" stroke-linejoin="round" stroke-linecap="round" />
<path d="M1826.5,2057.7 L1870.8,2115.9" fill="none" stroke="#111" stroke-width="3.0" stroke-linejoin="round" stroke-linecap="round" />
<path d="M1790.5,2118.7 L1840.3,2168.5" fill="none" stroke="#111" stroke-width="3.0" stroke-linejoin="round" stroke-linecap="round" />
<path d="M1760.0,2176.9 L1809.9,2226.7" fill="none" stroke="#111" stroke-width="3.0" stroke-linejoin="round" stroke-linecap="round" />
<path d="M1726.7,2243.4 L1782.0,2282.0" fill="none" stroke="#111" stroke-width="3.0" stroke-linejoin="round" stroke-linecap="round" />
<path d="M1658.6,2361.9 L1724.0,2397.0" fill="none" stroke="#111" stroke-width="3.0" stroke-linejoin="round" stroke-linecap="round" />
<path d="M1626.5,2414.7 L1693.8,2450.0" fill="none" stroke="#111" stroke-width="3.0" stroke-linejoin="round" stroke-linecap="round" />
<path d="M1591.0,2471.7 L1665.8,2507.7" fill="none" stroke="#111" stroke-width="3.0" stroke-linejoin="round" stroke-linecap="round" />
<path d="M1560.5,2538.2 L1635.3,2565.9" fill="none" stroke="#111" stroke-width="3.0" stroke-linejoin="round" stroke-linecap="round" />
<path d="M1517.7,2334.6 L1520.2,2336.7 L1523.3,2339.5 L1527.0,2342.7 L1531.2,2346.4 L1535.7,2350.3 L1540.5,2354.4 L1545.4,2358.5 L1550.3,2362.6 L1555.2,2366.4 L1560.0,2370.0 L1564.9,2373.5 L1570.4,2377.1 L1576.1,2380.9 L1582.0,2384.6 L1587.9,2388.2 L1593.5,2391.7 L1598.8,2394.9 L1603.5,2397.7 L1607.5,2400.1 L1610.5,2402.0" fill="none" stroke="#111" stroke-width="3.0" stroke-linejoin="round" stroke-linecap="round" />
<path d="M1482.5,2411.5 L1485.3,2413.2 L1489.0,2415.4 L1493.3,2418.1 L1498.1,2421.1 L1503.3,2424.2 L1508.8,2427.6 L1514.3,2430.9 L1519.8,2434.1 L1525.1,2437.2 L1530.0,2440.0 L1534.9,2442.7 L1540.2,2445.5 L1545.6,2448.3 L1551.1,2451.1 L1556.5,2453.8 L1561.6,2456.3 L1566.4,2458.7 L1570.6,2460.8 L1574.2,2462.6 L1577.0,2464.0" fill="none" stroke="#111" stroke-width="3.0" stroke-linejoin="round" stroke-linecap="round" />
<path d="M1405.3,2463.4 L1409.1,2465.3 L1414.0,2467.7 L1419.8,2470.5 L1426.2,2473.7 L1433.2,2477.2 L1440.6,2480.8 L1448.1,2484.5 L1455.6,2488.1 L1463.0,2491.7 L1470.0,2495.0 L1477.2,2498.3 L1484.9,2501.9 L1493.1,2505.6 L1501.4,2509.3 L1509.5,2513.0 L1517.4,2516.5 L1524.7,2519.7 L1531.2,2522.6 L1536.7,2525.1 L1541.0,2527.0" fill="none" stroke="#111" stroke-width="3.0" stroke-linejoin="round" stroke-linecap="round" />
<path d="M1300.0,2494.0 L1305.9,2496.4 L1313.3,2499.6 L1322.1,2503.3 L1332.0,2507.4 L1342.8,2511.9 L1354.0,2516.6 L1365.7,2521.3 L1377.4,2526.1 L1388.9,2530.7 L1400.0,2535.0 L1411.5,2539.3 L1424.0,2544.0 L1437.3,2548.8 L1450.8,2553.7 L1464.2,2558.6 L1477.2,2563.2 L1489.2,2567.5 L1500.0,2571.3 L1509.0,2574.5 L1516.0,2577.0" fill="none" stroke="#111" stroke-width="3.0" stroke-linejoin="round" stroke-linecap="round" />
<polygon points="1854,1960 1874.7,1960 1597.7,2480 1575.3,2480" fill="#fff"/>
<polygon points="1873.6,1920.8 1854,1960 1519.5,2575 1538.3,2580 1876,1960" fill="#fff"/>
<path d="M1873.6,1920.8 L1854.0,1960.0 L1519.5,2575.0" fill="none" stroke="#111" stroke-width="3.4" stroke-linejoin="round" stroke-linecap="round" />
<path d="M1873.6,1920.8 L1876.0,1960.0 L1538.3,2580.0" fill="none" stroke="#111" stroke-width="3.4" stroke-linejoin="round" stroke-linecap="round" />
<path d="M1493.7,2293.0 L1746.6,2313.8 L1746.6,2352.3 L1493.7,2331.4" fill="#fff" stroke="#111" stroke-width="3.2" stroke-linejoin="round" stroke-linecap="round" />
<path d="M1665.0,2307.4 L1665.0,2347.5" fill="none" stroke="#111" stroke-width="2.5" stroke-linejoin="round" stroke-linecap="round" />
<path d="M1659.0,1908.0 L1521.0,2078.5" fill="none" stroke="#111" stroke-width="2.4" stroke-linejoin="round" stroke-linecap="round" />
<polygon points="1521,2079 1526,2055 1537,2063" fill="#111"/>
<path d="M1066.5,1962.3 L1091.1,2150.0" fill="none" stroke="#111" stroke-width="2.4" stroke-linejoin="round" stroke-linecap="round" />
<polygon points="1091,2157 1082,2131 1098,2131" fill="#111"/>
<path d="M1912.0,2338.7 L1718.0,2333.0" fill="none" stroke="#111" stroke-width="2.4" stroke-linejoin="round" stroke-linecap="round" />
<polygon points="1712,2333 1735,2325 1735,2341" fill="#111"/>
<path d="M1912.0,2338.7 L1636.0,2398.7" fill="none" stroke="#111" stroke-width="2.4" stroke-linejoin="round" stroke-linecap="round" />
<polygon points="1630,2400 1650,2388 1654,2403" fill="#111"/>
<path d="M1848.6,2460.6 L1362.0,2521.3" fill="none" stroke="#111" stroke-width="2.4" stroke-linejoin="round" stroke-linecap="round" />
<polygon points="1356.8,2521.3 1381,2512 1383,2528" fill="#111"/>
<path d="M1072,2162.0 C1083.75,2154.0 1093.15,2172.0 1119,2161.0" fill="none" stroke="#111" stroke-width="3"/>
<path d="M1496,2085.0 C1508.25,2077.0 1518.05,2095.0 1545,2084.0" fill="none" stroke="#111" stroke-width="3"/>
<path d="M1683,2343 C1682,2330 1690,2322 1700,2319" fill="none" stroke="#111" stroke-width="3"/>
<path d="M1625,2417 C1616,2405 1622,2394 1633,2391" fill="none" stroke="#111" stroke-width="3"/>
<path d="M1157.6,2112.6 L1322.0,1933.0" fill="none" stroke="#111" stroke-width="10.0" stroke-linejoin="round" stroke-linecap="round" />
<polygon points="1359.9,1883.1 1297,1925 1319,1927 1344,1936" fill="#000"/>
<path d="M1250.0,2016.5 L1250.0,2047.3" fill="none" stroke="#111" stroke-width="3" stroke-linejoin="round" stroke-linecap="round" />
<path d="M1258.6,2047.3 L1211.8,2121.0" fill="none" stroke="#111" stroke-width="2.6" stroke-linejoin="round" stroke-linecap="round" />
<path d="M1250.0,2047.0 L1189.6,2117.5" fill="none" stroke="#111" stroke-width="2.0" stroke-linejoin="round" stroke-linecap="round" />
<rect x="823.5" y="2240" width="15.3" height="230" fill="#000"/>
<polygon points="831,2191 847.6,2236.5 838.8,2247.6 838.8,2262 823.3,2264 817.2,2268.7" fill="#000"/>
<polygon fill="#000" points="894.4,2423.0 923.0,2421.3 1020.4,2314.4 1019.8,2318.3 1018.8,2323.9 1017.7,2330.4 1016.8,2337.1 1016.3,2343.5 1016.5,2348.7 1017.3,2352.6 1018.5,2355.6 1020.1,2358.3 1022.2,2360.9 1024.8,2363.9 1028.0,2367.8 1031.8,2372.7 1036.2,2378.2 1041.1,2384.2 1046.5,2390.3 1052.3,2396.3 1058.5,2402.0 1065.3,2407.4 1072.7,2412.8 1080.5,2418.1 1088.6,2423.2 1096.6,2428.1 1104.4,2432.7 1111.9,2437.0 1119.3,2440.9 1126.7,2444.6 1134.2,2448.3 1141.9,2451.9 1150.0,2455.6 1158.3,2459.4 1166.7,2463.2 1175.3,2467.0 1184.3,2470.9 1193.7,2474.7 1203.6,2478.5 1214.5,2482.4 1226.3,2486.4 1238.5,2490.5 1250.6,2494.4 1262.1,2498.1 1272.4,2501.5 1281.4,2504.6 1289.6,2507.4 1297.1,2510.0 1304.2,2512.4 1311.1,2514.6 1318.0,2516.7 1324.5,2518.5 1330.4,2520.0 1336.1,2521.4 1342.0,2522.7 1348.6,2524.2 1356.4,2526.0 1365.1,2528.1 1374.4,2530.2 1384.4,2532.5 1395.2,2535.0 1407.0,2537.9 1420.0,2541.0 1435.7,2544.9 1454.2,2549.5 1473.7,2554.4 1492.4,2559.1 1508.3,2563.2 1519.5,2566.0 1519.5,2578.0 1300.0,2524.0"/>
<polygon points="883,2413.6 1012.7,2283.8 1020.4,2314.4 923,2421.3" fill="#fff"/>
<path d="M881.0,2412.0 L1011.0,2282.0" fill="none" stroke="#111" stroke-width="13" stroke-linejoin="round" stroke-linecap="round" />
<path d="M923.0,2421.3 L1020.4,2314.4" fill="none" stroke="#111" stroke-width="2.5" stroke-linejoin="round" stroke-linecap="round" />
<path d="M997.0,2285.0 L997.0,2245.0 L1013.6,2245.0 L1013.6,2285.0" fill="#fff" stroke="#111" stroke-width="3.5" stroke-linejoin="round" stroke-linecap="round" />
<polygon fill="#000" points="829.6,2469.6 860.0,2448.0 1100.0,2509.0 1400.0,2583.0 1540.0,2619.0 1600.0,2633.0 1600.0,2600.0 1617.6,2600.0 1586.5,2668.7 1577.0,2677.0 1400.0,2627.0 1100.0,2547.0 860.0,2478.5"/>
<path d="M894.4,2423.0 L1519.0,2573.9 L1519.0,2610.7 L894.4,2457.5" fill="#fff" stroke="#111" stroke-width="3" stroke-linejoin="round" stroke-linecap="round" />
<path d="M851.0,2407.6 L894.0,2416.0 L894.0,2457.0 L871.7,2450.4 L851.0,2446.0" fill="#fff" stroke="#111" stroke-width="3" stroke-linejoin="round" stroke-linecap="round" />
<path d="M871.7,2450.4 L871.7,2430.0 L894.0,2416.0" fill="none" stroke="#111" stroke-width="2.5" stroke-linejoin="round" stroke-linecap="round" />
<path d="M1519.0,2580.0 L1602.0,2597.0 L1602.0,2632.0 L1519.0,2615.0" fill="#fff" stroke="#111" stroke-width="3" stroke-linejoin="round" stroke-linecap="round" />
<path d="M1498.4,2608.6 L1519.5,2577.5 L1519.5,2615.0 L1498.4,2646.0 Z" fill="#fff" stroke="#111" stroke-width="2.5" stroke-linejoin="round" stroke-linecap="round" />
<path d="M1577.0,2677.0 L1783.8,2733.0" fill="none" stroke="#111" stroke-width="10" stroke-linejoin="round" stroke-linecap="round" />
<polygon points="1770.5,2750.2 1802.7,2711.9 1843.7,2749.6" fill="#000"/>
<g transform="translate(980,2080) scale(0.33252)">
<path d="M215.0,760.0 L215.4,768.5 L215.5,779.7 L215.5,793.0 L215.5,807.8 L215.8,823.8 L216.5,840.2 L217.9,856.5 L220.1,872.3 L223.4,887.0 L228.0,900.0 L233.7,911.6 L240.3,922.6 L247.7,932.9 L255.8,942.9 L264.8,952.5 L274.5,961.9 L284.9,971.3 L296.0,980.6 L307.7,990.2 L320.0,1000.0 L333.0,1010.0 L346.7,1020.0 L361.1,1030.0 L376.2,1040.0 L392.0,1050.0 L408.4,1060.0 L425.4,1070.0 L443.1,1080.0 L461.3,1090.0 L480.0,1100.0 L499.4,1110.0 L519.7,1120.0 L540.6,1130.0 L562.2,1140.0 L584.4,1150.0 L607.0,1160.0 L629.9,1170.0 L653.1,1180.0 L676.5,1190.0 L700.0,1200.0 L724.9,1210.5 L752.1,1221.6 L780.7,1233.2 L809.8,1244.8 L838.8,1256.2 L866.6,1267.2 L892.4,1277.3 L915.5,1286.4 L935.0,1294.0 L950.0,1300.0" fill="none" stroke="#111" stroke-width="8.5" stroke-linejoin="round" stroke-linecap="round" />
<path d="M345.0,880.0 L346.4,886.6 L347.7,895.1 L349.1,905.2 L350.8,916.6 L352.8,928.8 L355.4,941.4 L358.8,954.3 L363.1,966.9 L368.4,978.9 L375.0,990.0 L382.6,1000.4 L391.0,1010.6 L400.3,1020.7 L410.3,1030.7 L421.2,1040.6 L433.1,1050.5 L445.8,1060.3 L459.6,1070.2 L474.3,1080.0 L490.0,1090.0 L507.3,1100.1 L526.6,1110.5 L547.3,1120.9 L569.1,1131.4 L591.6,1141.9 L614.3,1152.2 L636.9,1162.2 L659.0,1171.9 L680.2,1181.2 L700.0,1190.0 L719.4,1198.5 L739.3,1207.0 L759.3,1215.4 L779.0,1223.5 L798.1,1231.2 L816.2,1238.5 L832.8,1245.1 L847.5,1251.0 L860.1,1256.0 L870.0,1260.0" fill="none" stroke="#111" stroke-width="8.5" stroke-linejoin="round" stroke-linecap="round" />
<path d="M1280.0,1150.0 L1290.1,1155.4 L1303.1,1162.2 L1318.4,1170.4 L1335.6,1179.5 L1354.1,1189.4 L1373.6,1199.7 L1393.4,1210.2 L1413.0,1220.6 L1432.1,1230.6 L1450.0,1240.0 L1468.0,1249.4 L1487.3,1259.4 L1507.4,1269.8 L1527.7,1280.3 L1547.6,1290.6 L1566.7,1300.5 L1584.5,1309.6 L1600.3,1317.8 L1613.6,1324.6 L1624.0,1330.0" fill="none" stroke="#111" stroke-width="8.5" stroke-linejoin="round" stroke-linecap="round" />
</g>
<g transform="translate(980,2080) scale(0.33252)">
<path d="M165.0,130.0 L175.5,128.7 L189.0,126.9 L205.1,124.7 L223.1,122.4 L242.5,119.8 L262.7,117.2 L283.1,114.6 L303.2,112.2 L322.3,109.9 L340.0,108.0 L356.7,106.2 L373.1,104.3 L389.4,102.5 L405.6,100.7 L421.6,99.1 L437.4,97.6 L453.2,96.4 L468.9,95.5 L484.5,95.0 L500.0,95.0 L515.5,95.4 L530.8,96.3 L546.0,97.5 L561.2,99.1 L576.2,100.9 L591.2,103.0 L606.0,105.1 L620.8,107.4 L635.5,109.7 L650.0,112.0 L664.7,114.5 L679.6,117.6 L694.6,120.9 L709.6,124.5 L724.4,128.0 L738.8,131.4 L752.7,134.4 L766.0,137.0 L778.5,138.9 L790.0,140.0 L800.2,140.2 L809.0,139.7 L816.8,138.5 L823.9,136.9 L830.6,134.9 L837.3,132.7 L844.2,130.5 L851.8,128.4 L860.2,126.5 L870.0,125.0 L880.3,123.7 L890.6,122.2 L900.9,120.7 L911.7,119.2 L923.1,117.8 L935.5,116.6 L949.1,115.6 L964.2,115.0 L981.1,114.8 L1000.0,115.0 L1022.3,115.7 L1048.4,116.7 L1077.3,118.0 L1108.0,119.6 L1139.4,121.6 L1170.4,123.8 L1200.0,126.2 L1227.2,128.9 L1250.9,131.9 L1270.0,135.0 L1284.3,138.4 L1294.8,142.2 L1302.2,146.2 L1307.2,150.5 L1310.6,155.0 L1313.2,159.7 L1315.7,164.6 L1318.8,169.6 L1323.3,174.8 L1330.0,180.0 L1338.6,185.3 L1348.1,190.6 L1358.3,196.0 L1369.0,201.5 L1380.0,207.2 L1391.0,213.1 L1401.7,219.3 L1411.9,225.8 L1421.4,232.7 L1430.0,240.0 L1437.7,247.7 L1444.9,255.8 L1451.6,264.2 L1457.8,272.9 L1463.8,281.9 L1469.4,291.1 L1474.7,300.6 L1479.9,310.2 L1485.0,320.1 L1490.0,330.0 L1494.9,340.1 L1499.7,350.2 L1504.3,360.6 L1508.6,371.1 L1512.8,381.9 L1516.8,392.9 L1520.5,404.2 L1523.9,415.8 L1527.1,427.7 L1530.0,440.0 L1532.6,452.8 L1534.9,466.1 L1537.0,479.8 L1538.8,493.8 L1540.3,508.1 L1541.6,522.6 L1542.8,537.1 L1543.7,551.5 L1544.4,565.9 L1545.0,580.0 L1545.4,593.9 L1545.5,607.7 L1545.4,621.4 L1545.1,635.0 L1544.6,648.8 L1543.9,662.6 L1543.1,676.5 L1542.2,690.7 L1541.1,705.2 L1540.0,720.0 L1538.8,735.4 L1537.4,751.6 L1535.8,768.3 L1534.2,785.2 L1532.4,802.2 L1530.5,819.0 L1528.5,835.4 L1526.4,851.2 L1524.2,866.1 L1522.0,880.0 L1519.8,892.9 L1517.5,905.0 L1515.3,916.6 L1513.0,927.5 L1510.5,937.9 L1507.9,947.9 L1505.1,957.6 L1502.0,966.9 L1498.7,976.0 L1495.0,985.0 L1491.4,993.6 L1488.0,1001.7 L1484.7,1009.3 L1481.2,1016.6 L1477.4,1023.6 L1472.9,1030.4 L1467.7,1037.2 L1461.4,1044.0 L1454.0,1050.9 L1445.0,1058.0 L1434.4,1065.4 L1422.2,1073.1 L1408.6,1081.0 L1394.1,1088.9 L1378.8,1096.7 L1362.9,1104.3 L1346.9,1111.5 L1330.8,1118.3 L1315.1,1124.5 L1300.0,1130.0 L1285.4,1134.9 L1271.1,1139.6 L1256.9,1143.8 L1242.8,1147.7 L1228.4,1151.1 L1213.8,1154.0 L1198.8,1156.4 L1183.3,1158.2 L1167.0,1159.4 L1150.0,1160.0 L1132.0,1159.9 L1113.2,1159.2 L1093.7,1158.0 L1073.6,1156.1 L1053.1,1153.8 L1032.4,1150.9 L1011.6,1147.5 L990.8,1143.8 L970.2,1139.6 L950.0,1135.0 L930.0,1129.9 L910.0,1124.2 L890.0,1117.9 L870.0,1111.2 L850.0,1104.1 L830.0,1096.6 L810.0,1088.9 L790.0,1081.0 L770.0,1073.0 L750.0,1065.0 L729.8,1056.7 L709.2,1048.0 L688.4,1039.0 L667.6,1029.7 L646.9,1020.3 L626.4,1010.9 L606.3,1001.5 L586.8,992.4 L568.0,983.5 L550.0,975.0 L533.0,967.1 L516.8,959.6 L501.3,952.5 L486.4,945.6 L471.9,938.8 L457.6,931.8 L443.4,924.6 L429.2,917.0 L414.8,908.9 L400.0,900.0 L384.7,890.4 L369.0,880.1 L353.1,869.3 L337.1,858.0 L321.2,846.6 L305.7,835.0 L290.6,823.4 L276.2,811.9 L262.6,800.8 L250.0,790.0 L238.4,779.7 L227.4,769.8 L217.2,760.2 L207.5,750.7 L198.4,741.2 L189.9,731.7 L181.8,721.9 L174.2,711.8 L166.9,701.2 L160.0,690.0 L153.5,678.3 L147.6,666.1 L142.2,653.5 L137.2,640.6 L132.7,627.5 L128.5,614.2 L124.7,600.7 L121.2,587.1 L118.0,573.5 L115.0,560.0 L112.3,545.8 L110.1,530.4 L108.3,514.3 L106.9,498.0 L105.7,481.9 L104.7,466.4 L103.9,452.0 L103.3,439.2 L102.6,428.4 L102.0,420.0 L95.0,230.0 L165.0,130.0 Z" fill="#fff" stroke="#111" stroke-width="10" stroke-linejoin="round" stroke-linecap="round" />
<path d="M175.0,720.0 L181.9,726.3 L190.0,734.0 L199.4,743.0 L210.0,753.2 L221.9,764.4 L235.0,776.4 L249.4,789.1 L265.0,802.4 L281.9,816.1 L300.0,830.0 L319.9,844.9 L342.0,861.3 L365.8,878.8 L391.0,897.0 L417.2,915.6 L444.0,934.2 L471.1,952.3 L498.0,969.5 L524.4,985.6 L550.0,1000.0 L575.2,1013.0 L600.8,1025.1 L626.6,1036.4 L652.4,1047.0 L678.1,1056.9 L703.6,1066.2 L728.7,1075.1 L753.2,1083.7 L777.0,1091.9 L800.0,1100.0 L822.2,1107.8 L843.8,1115.1 L864.9,1122.0 L885.5,1128.6 L905.6,1134.7 L925.3,1140.4 L944.5,1145.8 L963.4,1150.9 L981.8,1155.6 L1000.0,1160.0 L1017.6,1164.2 L1034.6,1168.2 L1050.9,1172.0 L1066.9,1175.4 L1082.5,1178.4 L1097.9,1181.0 L1113.3,1183.0 L1128.6,1184.4 L1144.2,1185.1 L1160.0,1185.0 L1176.1,1184.1 L1192.3,1182.5 L1208.6,1180.2 L1225.0,1177.2 L1241.2,1173.8 L1257.4,1169.8 L1273.5,1165.3 L1289.3,1160.5 L1304.8,1155.4 L1320.0,1150.0 L1335.4,1143.8 L1351.5,1136.4 L1367.9,1128.1 L1384.2,1119.3 L1400.0,1110.3 L1415.0,1101.5 L1428.9,1093.2 L1441.3,1085.8 L1451.8,1079.6 L1460.0,1075.0" fill="none" stroke="#111" stroke-width="8" stroke-linejoin="round" stroke-linecap="round" />
<path d="M100.0,290.0 L103.4,295.4 L107.7,302.4 L112.6,310.7 L118.2,320.0 L124.4,330.0 L131.0,340.4 L137.9,350.9 L145.1,361.2 L152.5,371.0 L160.0,380.0 L167.3,388.2 L174.3,395.8 L181.3,403.2 L188.6,410.3 L196.2,417.5 L204.6,424.9 L214.0,432.6 L224.5,441.0 L236.4,450.0 L250.0,460.0 L265.1,470.9 L281.4,482.5 L298.8,494.7 L317.3,507.4 L336.9,520.6 L357.5,534.2 L379.2,548.0 L401.8,561.9 L425.5,576.0 L450.0,590.0 L476.2,604.6 L504.4,620.3 L534.2,636.7 L565.2,653.4 L596.9,670.0 L628.8,686.2 L660.5,701.7 L691.6,716.1 L721.6,729.0 L750.0,740.0 L777.2,749.2 L804.0,756.8 L830.2,763.2 L856.0,768.5 L881.2,773.0 L906.0,776.8 L930.2,780.2 L954.0,783.4 L977.2,786.6 L1000.0,790.0 L1022.0,793.6 L1043.2,797.2 L1063.7,800.7 L1083.6,803.9 L1103.1,806.8 L1122.4,809.2 L1141.6,811.0 L1160.8,812.1 L1180.2,812.5 L1200.0,812.0 L1220.5,810.4 L1241.9,807.7 L1263.8,804.0 L1285.8,799.7 L1307.5,794.9 L1328.6,789.7 L1348.8,784.5 L1367.7,779.3 L1384.9,774.4 L1400.0,770.0 L1413.0,765.9 L1424.1,761.9 L1433.6,757.9 L1441.8,753.9 L1449.1,749.9 L1455.6,745.9 L1461.6,741.9 L1467.5,738.0 L1473.6,734.0 L1480.0,730.0 L1486.8,725.8 L1493.5,721.4 L1500.1,716.7 L1506.4,712.1 L1512.5,707.5 L1518.2,703.1 L1523.3,699.1 L1527.9,695.4 L1531.8,692.4 L1535.0,690.0" fill="none" stroke="#111" stroke-width="11" stroke-linejoin="round" stroke-linecap="round" />
<path d="M102.0,460.0 L105.4,465.8 L108.8,473.0 L112.6,481.4 L117.0,490.9 L122.2,501.2 L128.6,512.3 L136.3,523.9 L145.6,535.8 L156.7,547.9 L170.0,560.0 L185.1,572.3 L201.7,585.0 L219.8,598.3 L239.4,611.9 L260.5,625.9 L283.2,640.3 L307.5,654.9 L333.3,669.8 L360.8,684.8 L390.0,700.0 L421.6,715.9 L455.9,732.8 L492.6,750.3 L531.0,768.3 L570.6,786.2 L611.0,803.9 L651.7,821.0 L692.1,837.0 L731.7,851.8 L770.0,865.0 L808.3,876.9 L847.8,888.0 L888.0,898.2 L928.3,907.7 L968.1,916.2 L1006.9,923.9 L1044.0,930.7 L1079.0,936.4 L1111.1,941.2 L1140.0,945.0 L1164.9,947.6 L1186.2,949.0 L1204.4,949.2 L1220.5,948.5 L1235.0,946.9 L1248.7,944.5 L1262.4,941.5 L1276.6,938.0 L1292.3,934.2 L1310.0,930.0 L1330.3,924.9 L1352.8,918.4 L1376.7,910.8 L1401.2,902.6 L1425.6,894.1 L1449.2,885.6 L1471.2,877.6 L1490.8,870.4 L1507.3,864.4 L1520.0,860.0" fill="none" stroke="#111" stroke-width="9.0" stroke-linejoin="round" stroke-linecap="round" />
<path d="M150.0,680.0 L164.3,689.2 L182.1,701.2 L202.8,715.3 L226.2,731.1 L251.9,748.1 L279.4,765.9 L308.3,784.0 L338.3,801.8 L369.0,819.0 L400.0,835.0 L432.1,850.5 L466.3,866.3 L502.2,882.3 L539.4,898.2 L577.5,914.1 L616.2,929.6 L655.2,944.6 L694.1,958.9 L732.5,972.5 L770.0,985.0 L807.9,996.9 L847.2,1008.5 L887.3,1019.7 L927.6,1030.4 L967.5,1040.3 L1006.4,1049.4 L1043.7,1057.6 L1078.8,1064.7 L1111.1,1070.5 L1140.0,1075.0 L1165.0,1078.0 L1186.5,1079.6 L1205.1,1080.0 L1221.4,1079.2 L1236.2,1077.5 L1250.2,1075.0 L1263.8,1071.9 L1277.9,1068.2 L1293.1,1064.2 L1310.0,1060.0 L1329.0,1054.9 L1349.8,1048.4 L1371.5,1040.8 L1393.7,1032.6 L1415.6,1024.1 L1436.7,1015.6 L1456.3,1007.6 L1473.8,1000.4 L1488.6,994.4 L1500.0,990.0" fill="none" stroke="#111" stroke-width="9.0" stroke-linejoin="round" stroke-linecap="round" />
<path d="M150.0,390.0 L150.0,690.0" fill="none" stroke="#111" stroke-width="9.0" stroke-linejoin="round" stroke-linecap="round" />
<path d="M265.0,470.0 L270.0,795.0" fill="none" stroke="#111" stroke-width="9.0" stroke-linejoin="round" stroke-linecap="round" />
<path d="M390.0,560.0 L392.0,890.0" fill="none" stroke="#111" stroke-width="9.0" stroke-linejoin="round" stroke-linecap="round" />
<path d="M550.0,640.0 L555.0,980.0" fill="none" stroke="#111" stroke-width="9.0" stroke-linejoin="round" stroke-linecap="round" />
<path d="M765.0,745.0 L765.0,1075.0" fill="none" stroke="#111" stroke-width="9.0" stroke-linejoin="round" stroke-linecap="round" />
<path d="M935.0,780.0 L935.0,1130.0" fill="none" stroke="#111" stroke-width="9.0" stroke-linejoin="round" stroke-linecap="round" />
<path d="M1140.0,805.0 L1140.0,1165.0" fill="none" stroke="#111" stroke-width="9.0" stroke-linejoin="round" stroke-linecap="round" />
<path d="M1305.0,795.0 L1305.0,1140.0" fill="none" stroke="#111" stroke-width="9.0" stroke-linejoin="round" stroke-linecap="round" />
<path d="M1470.0,745.0 L1470.0,1045.0" fill="none" stroke="#111" stroke-width="9.0" stroke-linejoin="round" stroke-linecap="round" />
<path d="M274.0,120.0 L274.2,130.2 L274.5,143.3 L274.9,158.8 L275.4,176.3 L275.8,195.0 L276.2,214.7 L276.6,234.6 L276.7,254.5 L276.7,273.6 L276.5,291.5 L276.0,309.4 L275.2,328.5 L274.2,348.4 L273.1,368.3 L271.9,388.0 L270.7,406.7 L269.5,424.2 L268.5,439.7 L267.6,452.8 L267.0,463.0" fill="none" stroke="#111" stroke-width="9.0" stroke-linejoin="round" stroke-linecap="round" />
<path d="M378.0,112.0 L378.1,125.3 L378.3,142.4 L378.6,162.6 L378.9,185.3 L379.2,209.8 L379.4,235.4 L379.6,261.4 L379.6,287.2 L379.4,312.1 L379.0,335.5 L378.3,358.9 L377.4,383.8 L376.2,409.6 L374.9,435.6 L373.6,461.2 L372.2,485.7 L370.9,508.4 L369.7,528.6 L368.7,545.7 L368.0,559.0" fill="none" stroke="#111" stroke-width="9.0" stroke-linejoin="round" stroke-linecap="round" />
<path d="M496.0,100.0 L495.9,115.1 L495.9,134.5 L495.8,157.4 L495.8,183.1 L495.7,210.9 L495.5,239.9 L495.2,269.5 L494.8,298.7 L494.2,327.0 L493.5,353.5 L492.5,380.0 L491.1,408.3 L489.6,437.5 L487.9,467.1 L486.1,496.1 L484.3,523.9 L482.7,549.6 L481.2,572.5 L479.9,591.9 L479.0,607.0" fill="none" stroke="#111" stroke-width="9.0" stroke-linejoin="round" stroke-linecap="round" />
<path d="M607.0,118.0 L606.6,134.0 L606.2,154.5 L605.7,178.8 L605.1,206.1 L604.5,235.5 L603.7,266.2 L602.9,297.5 L601.9,328.5 L600.8,358.4 L599.5,386.5 L597.9,414.6 L596.1,444.5 L593.9,475.5 L591.6,506.8 L589.3,537.5 L587.0,566.9 L584.8,594.2 L582.8,618.5 L581.2,639.0 L580.0,655.0" fill="none" stroke="#111" stroke-width="9.0" stroke-linejoin="round" stroke-linecap="round" />
<path d="M722.0,130.0 L721.2,147.0 L720.2,168.8 L719.1,194.6 L717.8,223.5 L716.4,254.7 L714.9,287.3 L713.2,320.5 L711.4,353.4 L709.5,385.2 L707.5,415.0 L705.2,444.8 L702.5,476.6 L699.6,509.5 L696.5,542.7 L693.3,575.3 L690.3,606.5 L687.4,635.4 L684.8,661.2 L682.6,683.0 L681.0,700.0" fill="none" stroke="#111" stroke-width="9.0" stroke-linejoin="round" stroke-linecap="round" />
<path d="M836.0,130.0 L834.5,148.5 L832.7,172.3 L830.6,200.4 L828.2,232.0 L825.6,266.1 L822.8,301.7 L819.8,337.9 L816.8,373.8 L813.7,408.5 L810.5,441.0 L807.1,473.5 L803.2,508.2 L799.0,544.1 L794.6,580.3 L790.2,615.9 L785.9,650.0 L781.9,681.6 L778.3,709.7 L775.3,733.5 L773.0,752.0" fill="none" stroke="#111" stroke-width="9.0" stroke-linejoin="round" stroke-linecap="round" />
<path d="M940.0,118.0 L938.0,137.4 L935.6,162.3 L932.7,191.8 L929.4,224.9 L925.9,260.6 L922.1,298.0 L918.2,335.9 L914.1,373.6 L910.0,409.9 L906.0,444.0 L901.7,478.1 L896.8,514.4 L891.6,552.1 L886.3,590.0 L880.9,627.4 L875.7,663.1 L870.8,696.2 L866.4,725.7 L862.8,750.6 L860.0,770.0" fill="none" stroke="#111" stroke-width="9.0" stroke-linejoin="round" stroke-linecap="round" />
<path d="M1040.0,118.0 L1038.0,138.1 L1035.6,163.8 L1032.7,194.3 L1029.4,228.5 L1025.9,265.4 L1022.1,304.0 L1018.2,343.3 L1014.1,382.2 L1010.0,419.8 L1006.0,455.0 L1001.7,490.2 L996.8,527.8 L991.6,566.7 L986.3,606.0 L980.9,644.6 L975.7,681.5 L970.8,715.7 L966.4,746.2 L962.8,771.9 L960.0,792.0" fill="none" stroke="#111" stroke-width="9.0" stroke-linejoin="round" stroke-linecap="round" />
<path d="M1150.0,130.0 L1148.3,150.1 L1146.2,175.9 L1143.8,206.4 L1141.1,240.7 L1138.1,277.7 L1134.9,316.3 L1131.5,355.6 L1128.0,394.6 L1124.5,432.2 L1121.0,467.5 L1117.2,502.8 L1112.9,540.4 L1108.3,579.4 L1103.5,618.7 L1098.7,657.3 L1094.0,694.3 L1089.7,728.6 L1085.8,759.1 L1082.5,784.9 L1080.0,805.0" fill="none" stroke="#111" stroke-width="9.0" stroke-linejoin="round" stroke-linecap="round" />
<path d="M1265.0,135.0 L1263.5,155.1 L1261.6,180.9 L1259.4,211.4 L1256.9,245.7 L1254.2,282.7 L1251.2,321.3 L1248.2,360.6 L1245.0,399.6 L1241.8,437.2 L1238.5,472.5 L1235.0,507.8 L1231.0,545.4 L1226.6,584.4 L1222.1,623.7 L1217.6,662.3 L1213.2,699.3 L1209.1,733.6 L1205.4,764.1 L1202.3,789.9 L1200.0,810.0" fill="none" stroke="#111" stroke-width="9.0" stroke-linejoin="round" stroke-linecap="round" />
<path d="M1330.0,180.0 L1331.5,193.0 L1333.8,209.6 L1336.7,229.2 L1339.9,251.2 L1343.1,275.0 L1346.1,300.0 L1348.5,325.6 L1350.2,351.2 L1350.7,376.2 L1350.0,400.0 L1347.8,423.6 L1344.5,448.2 L1340.1,473.4 L1335.0,498.9 L1329.4,524.4 L1323.4,549.5 L1317.2,574.0 L1311.1,597.4 L1305.3,619.6 L1300.0,640.0 L1294.8,659.3 L1289.2,678.2 L1283.4,696.3 L1277.6,713.7 L1271.9,730.0 L1266.4,745.1 L1261.3,758.9 L1256.8,771.0 L1253.0,781.5 L1250.0,790.0" fill="none" stroke="#111" stroke-width="9.0" stroke-linejoin="round" stroke-linecap="round" />
<path d="M1430.0,240.0 L1432.2,252.4 L1435.5,268.2 L1439.6,286.9 L1444.2,307.9 L1448.8,330.6 L1453.0,354.5 L1456.7,378.9 L1459.3,403.4 L1460.5,427.2 L1460.0,450.0 L1457.7,472.8 L1453.9,496.8 L1448.9,521.6 L1443.0,546.8 L1436.2,571.9 L1429.0,596.4 L1421.6,619.9 L1414.1,642.0 L1406.8,662.2 L1400.0,680.0 L1393.1,695.7 L1385.5,709.9 L1377.5,722.7 L1369.4,734.2 L1361.2,744.4 L1353.4,753.4 L1346.2,761.4 L1339.7,768.5 L1334.2,774.6 L1330.0,780.0" fill="none" stroke="#111" stroke-width="9.0" stroke-linejoin="round" stroke-linecap="round" />
<path d="M165.0,155.0 L206.4,158.5 L261.1,163.2 L326.2,168.8 L399.0,175.0 L476.8,181.7 L556.6,188.5 L635.9,195.3 L711.7,201.8 L781.3,207.8 L842.0,213.0 L896.5,217.7 L949.4,222.2 L1000.3,226.5 L1048.8,230.6 L1094.6,234.5 L1137.2,238.2 L1176.5,241.5 L1211.9,244.7 L1243.2,247.5 L1270.0,250.0 L1291.2,252.1 L1306.5,253.9 L1316.9,255.3 L1323.4,256.4 L1326.8,257.3 L1328.0,258.0 L1328.0,258.6 L1327.7,259.1 L1328.1,259.5 L1330.0,260.0" fill="none" stroke="#111" stroke-width="9.0" stroke-linejoin="round" stroke-linecap="round" />
<path d="M132.0,310.0 L175.5,313.2 L233.1,317.3 L301.7,322.2 L378.4,327.7 L460.2,333.6 L544.2,339.7 L627.4,345.8 L706.7,351.7 L779.2,357.1 L842.0,362.0 L897.4,366.2 L949.9,370.0 L999.6,373.4 L1046.4,376.7 L1090.4,379.9 L1131.6,383.2 L1170.2,386.7 L1206.1,390.6 L1239.3,395.0 L1270.0,400.0 L1297.3,405.8 L1320.6,412.3 L1340.5,419.3 L1357.6,426.7 L1372.4,434.2 L1385.3,441.9 L1397.1,449.5 L1408.0,456.8 L1418.9,463.7 L1430.0,470.0 L1441.0,476.0 L1450.9,482.1 L1459.8,488.0 L1467.8,493.8 L1475.0,499.4 L1481.4,504.6 L1487.0,509.3 L1491.9,513.5 L1496.2,517.1 L1500.0,520.0" fill="none" stroke="#111" stroke-width="9.0" stroke-linejoin="round" stroke-linecap="round" />
<path d="M262.0,468.0 L297.2,470.9 L343.3,474.7 L398.2,479.2 L459.5,484.2 L525.2,489.6 L593.1,495.1 L660.9,500.7 L726.4,506.2 L787.5,511.3 L842.0,516.0 L892.1,520.1 L941.3,523.6 L989.4,526.9 L1036.0,530.0 L1081.0,533.2 L1124.0,536.5 L1164.6,540.2 L1202.7,544.4 L1237.9,549.3 L1270.0,555.0 L1298.5,561.8 L1323.6,569.6 L1345.7,578.2 L1365.1,587.4 L1382.4,596.8 L1397.8,606.3 L1411.9,615.6 L1425.0,624.5 L1437.6,632.7 L1450.0,640.0 L1461.8,646.6 L1472.2,653.0 L1481.3,659.1 L1489.3,664.9 L1496.2,670.3 L1502.3,675.3 L1507.6,679.8 L1512.2,683.8 L1516.3,687.2 L1520.0,690.0" fill="none" stroke="#111" stroke-width="9.0" stroke-linejoin="round" stroke-linecap="round" />
<path d="M373.0,535.0 L401.1,537.3 L437.4,540.4 L480.5,543.9 L528.8,547.9 L580.8,552.2 L634.8,556.7 L689.5,561.3 L743.3,565.8 L794.6,570.0 L842.0,574.0 L887.7,577.5 L934.7,580.5 L982.2,583.3 L1029.5,586.0 L1075.9,588.8 L1120.8,591.9 L1163.3,595.3 L1202.8,599.4 L1238.6,604.2 L1270.0,610.0 L1296.9,617.2 L1320.2,626.0 L1340.2,635.9 L1357.2,646.4 L1371.8,657.2 L1384.1,667.9 L1394.8,677.9 L1404.0,686.9 L1412.3,694.4 L1420.0,700.0" fill="none" stroke="#111" stroke-width="9.0" stroke-linejoin="round" stroke-linecap="round" />
<path d="M480.0,590.0 L501.2,592.1 L528.2,594.8 L559.9,597.9 L595.6,601.5 L634.2,605.3 L675.1,609.3 L717.1,613.4 L759.6,617.4 L801.5,621.3 L842.0,625.0 L883.6,628.3 L928.5,631.4 L975.6,634.4 L1023.7,637.3 L1071.8,640.3 L1118.5,643.5 L1162.9,646.9 L1203.7,650.8 L1239.8,655.1 L1270.0,660.0 L1294.4,665.9 L1314.1,672.9 L1329.8,680.6 L1342.2,688.8 L1351.8,697.2 L1359.2,705.4 L1365.1,713.0 L1370.1,719.9 L1374.9,725.7 L1380.0,730.0" fill="none" stroke="#111" stroke-width="8.1" stroke-linejoin="round" stroke-linecap="round" />
<path d="M600.0,650.0 L613.7,651.3 L630.3,652.9 L649.6,654.8 L671.4,656.9 L695.5,659.2 L721.6,661.7 L749.6,664.3 L779.1,666.9 L810.0,669.5 L842.0,672.0 L877.5,674.4 L918.1,676.7 L962.2,679.0 L1008.5,681.2 L1055.5,683.6 L1101.7,686.2 L1145.7,689.1 L1186.1,692.3 L1221.3,695.9 L1250.0,700.0 L1272.3,705.0 L1289.8,710.9 L1303.2,717.5 L1313.2,724.6 L1320.5,731.8 L1325.7,738.8 L1329.6,745.4 L1332.8,751.3 L1336.1,756.3 L1340.0,760.0" fill="none" stroke="#111" stroke-width="8.1" stroke-linejoin="round" stroke-linecap="round" />
<path d="M700.0,700.0 L718.1,701.9 L741.6,704.3 L769.5,707.3 L800.8,710.6 L834.4,714.1 L869.2,717.6 L904.2,721.2 L938.4,724.5 L970.7,727.5 L1000.0,730.0 L1028.2,732.2 L1057.2,734.2 L1086.5,736.1 L1115.6,737.8 L1143.8,739.4 L1170.4,740.8 L1195.0,742.1 L1216.8,743.2 L1235.3,744.2 L1250.0,745.0" fill="none" stroke="#111" stroke-width="8.1" stroke-linejoin="round" stroke-linecap="round" />
</g>
<path d="M1066.5,1962.3 L1091.1,2150.0" fill="none" stroke="#111" stroke-width="2.4" stroke-linejoin="round" stroke-linecap="round" />
<polygon points="1091,2157 1082,2131 1098,2131" fill="#111"/>
<path d="M1072,2162.0 C1083.75,2154.0 1093.15,2172.0 1119,2161.0" fill="none" stroke="#111" stroke-width="3"/>
<g font-size="31.3" fill="#161616" stroke="#161616" stroke-width="1.1">
<text x="881" y="1916" textLength="344" lengthAdjust="spacingAndGlyphs">Unconstrained Objective</text>
<text x="888" y="1951" textLength="330" lengthAdjust="spacingAndGlyphs">Function Approximation</text>
<text x="1581" y="1858.4" textLength="261" lengthAdjust="spacingAndGlyphs">Objective Function</text>
<text x="1610" y="1894.4" textLength="201" lengthAdjust="spacingAndGlyphs">Approximation</text>
<text x="1918" y="2347.5" textLength="216" lengthAdjust="spacingAndGlyphs">Design Variable</text>
<text x="1958" y="2380.5" textLength="140" lengthAdjust="spacingAndGlyphs">Constraint</text>
<text x="1897" y="2469.5" textLength="168" lengthAdjust="spacingAndGlyphs">Actual State</text>
<text x="1848" y="2502.5" textLength="264" lengthAdjust="spacingAndGlyphs">Variable Constraint</text>
<text x="805" y="2681.5" textLength="214" lengthAdjust="spacingAndGlyphs">Feasible Space</text>
<text x="805" y="2729.5" textLength="230" lengthAdjust="spacingAndGlyphs">Infeasible Space</text>
<text x="805" y="2762" textLength="549" lengthAdjust="spacingAndGlyphs">(Based on Design Variable Constraints)</text>
<text x="805" y="2810" textLength="230" lengthAdjust="spacingAndGlyphs">Infeasible Space</text>
<text x="805" y="2842.5" textLength="602" lengthAdjust="spacingAndGlyphs">(Based on Actual State Variable Constraint)</text>
</g><g font-size="40" fill="#161616" stroke="#161616" stroke-width="1.2">
<text x="1405" y="1908" textLength="75" lengthAdjust="spacingAndGlyphs">DV2</text>
<text x="864" y="2190.5" textLength="76" lengthAdjust="spacingAndGlyphs">OBJ</text>
<text x="1828" y="2799.5" textLength="73" lengthAdjust="spacingAndGlyphs">DV1</text>
</g>
<path d="M661.4,2653.5 L777.8,2653.5 L777.8,2685.0 L661.4,2685.0 Z" fill="#fff" stroke="#111" stroke-width="3" stroke-linejoin="round" stroke-linecap="round" />
<path d="M661.4,2701.7 L777.8,2701.7 L777.8,2733.3 L661.4,2733.3 Z" fill="#ebebeb" stroke="#111" stroke-width="3" stroke-linejoin="round" stroke-linecap="round" />
<rect x="659.8" y="2782" width="118" height="33.3" fill="#000"/>
</g><g fill="#0c2c52">
<text x="237" y="3464.3" font-size="37" font-weight="bold" textLength="86" lengthAdjust="spacingAndGlyphs" stroke="#0c2c52" stroke-width="1.6">ABS</text>
<text x="335" y="3464.3" font-size="36.7" textLength="827" lengthAdjust="spacing">GUIDE FOR ENHANCED SHAFT ALIGNMENT</text>
<text x="1202" y="3464.3" font-size="36.7" textLength="85" lengthAdjust="spacing">2022</text>
<text x="2316" y="3465" font-size="36.7" font-weight="bold">31</text>
</g>
<circle cx="1183" cy="3450.6" r="5.5" fill="#d22630"/>
<defs><clipPath id="ctop"><rect x="0" y="3200" width="2597" height="282"/></clipPath><clipPath id="cbot"><rect x="0" y="3482" width="2597" height="200"/></clipPath></defs>
<g style="mix-blend-mode:multiply">
<polygon fill="#69a9cc" points="189.7,3293.5 207.1,3372.4 247.9,3302.7 240.1,3383.1 300.5,3329.5 268.2,3403.5 342.2,3371.2 288.6,3431.6 369.0,3423.8 299.3,3464.6 378.2,3482.0 299.3,3499.4 369.0,3540.2 288.6,3532.4 342.2,3592.8 268.2,3560.5 300.5,3634.5 240.1,3580.9 247.9,3661.3 207.1,3591.6 189.7,3670.5 172.3,3591.6 131.5,3661.3 139.3,3580.9 78.9,3634.5 111.2,3560.5 37.2,3592.8 90.8,3532.4 10.4,3540.2 80.1,3499.4 1.2,3482.0 80.1,3464.6 10.4,3423.8 90.8,3431.6 37.2,3371.2 111.2,3403.5 78.9,3329.5 139.3,3383.1 131.5,3302.7 172.3,3372.4"/>
<path d="M87.5,3482 A102.2,101.5 0 0 1 291.9,3482 Z" fill="#fff"/>
<g clip-path="url(#ctop)" font-family="Liberation Serif" font-weight="bold" font-size="296" fill="#69a9cc" stroke="#69a9cc" stroke-width="14" stroke-linejoin="round"><text transform="translate(400.33,0) scale(1.0089,1)" x="0" y="3578">S</text><text transform="translate(565.29,0) scale(0.8078,1)" x="0" y="3578">E</text><text transform="translate(725.88,0) scale(0.8192,1)" x="0" y="3578">A</text><text transform="translate(887.66,0) scale(0.8156,1)" x="0" y="3578">T</text><text transform="translate(1053.30,0) scale(0.8903,1)" x="0" y="3578">R</text><text transform="translate(1253.47,0) scale(0.7185,1)" x="0" y="3578">A</text><text transform="translate(1390.74,0) scale(0.8316,1)" x="0" y="3578">C</text><text transform="translate(1563.60,0) scale(0.8271,1)" x="0" y="3578">K</text><text transform="translate(1762.77,0) scale(0.7919,1)" x="0" y="3578">E</text><text transform="translate(1917.46,0) scale(0.7719,1)" x="0" y="3578">R</text><text transform="translate(2097.73,0) scale(1.1648,1)" x="0" y="3578">.</text><text transform="translate(2184.42,0) scale(0.8666,1)" x="0" y="3578">R</text><text transform="translate(2374.10,0) scale(0.8486,1)" x="0" y="3578">U</text></g>
<g clip-path="url(#ctop)" font-family="Liberation Serif" font-weight="bold" font-size="296" fill="#fff" stroke="#fff" stroke-width="4" stroke-linejoin="round"><text transform="translate(400.33,0) scale(1.0089,1)" x="0" y="3578">S</text><text transform="translate(565.29,0) scale(0.8078,1)" x="0" y="3578">E</text><text transform="translate(725.88,0) scale(0.8192,1)" x="0" y="3578">A</text><text transform="translate(887.66,0) scale(0.8156,1)" x="0" y="3578">T</text><text transform="translate(1053.30,0) scale(0.8903,1)" x="0" y="3578">R</text><text transform="translate(1253.47,0) scale(0.7185,1)" x="0" y="3578">A</text><text transform="translate(1390.74,0) scale(0.8316,1)" x="0" y="3578">C</text><text transform="translate(1563.60,0) scale(0.8271,1)" x="0" y="3578">K</text><text transform="translate(1762.77,0) scale(0.7919,1)" x="0" y="3578">E</text><text transform="translate(1917.46,0) scale(0.7719,1)" x="0" y="3578">R</text><text transform="translate(2097.73,0) scale(1.1648,1)" x="0" y="3578">.</text><text transform="translate(2184.42,0) scale(0.8666,1)" x="0" y="3578">R</text><text transform="translate(2374.10,0) scale(0.8486,1)" x="0" y="3578">U</text></g>
<g clip-path="url(#cbot)" font-family="Liberation Serif" font-weight="bold" font-size="296" fill="#69a9cc" stroke="#69a9cc" stroke-width="13" stroke-linejoin="round"><text transform="translate(400.33,0) scale(1.0089,1)" x="0" y="3578">S</text><text transform="translate(565.29,0) scale(0.8078,1)" x="0" y="3578">E</text><text transform="translate(725.88,0) scale(0.8192,1)" x="0" y="3578">A</text><text transform="translate(887.66,0) scale(0.8156,1)" x="0" y="3578">T</text><text transform="translate(1053.30,0) scale(0.8903,1)" x="0" y="3578">R</text><text transform="translate(1253.47,0) scale(0.7185,1)" x="0" y="3578">A</text><text transform="translate(1390.74,0) scale(0.8316,1)" x="0" y="3578">C</text><text transform="translate(1563.60,0) scale(0.8271,1)" x="0" y="3578">K</text><text transform="translate(1762.77,0) scale(0.7919,1)" x="0" y="3578">E</text><text transform="translate(1917.46,0) scale(0.7719,1)" x="0" y="3578">R</text><text transform="translate(2097.73,0) scale(1.1648,1)" x="0" y="3578">.</text><text transform="translate(2184.42,0) scale(0.8666,1)" x="0" y="3578">R</text><text transform="translate(2374.10,0) scale(0.8486,1)" x="0" y="3578">U</text></g>
</g></svg>
</body></html>
